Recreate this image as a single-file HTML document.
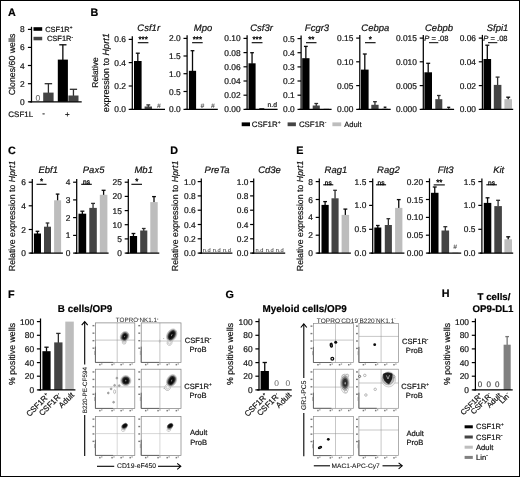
<!DOCTYPE html>
<html><head><meta charset="utf-8"><title>Figure</title>
<style>
html,body{margin:0;padding:0;background:#fff;}
body{width:520px;height:477px;overflow:hidden;font-family:"Liberation Sans",sans-serif;}
svg{display:block;font-family:"Liberation Sans",sans-serif;will-change:transform;opacity:0.999;}
svg text{font-family:"Liberation Sans",sans-serif;text-rendering:geometricPrecision;}
</style></head><body>
<svg width="520" height="477" viewBox="0 0 520 477">
<rect x="0.5" y="0.5" width="519" height="476" fill="#fff" stroke="#000" stroke-width="1"/>
<text transform="translate(8.00 16.40) scale(0.1)" font-size="108.0" text-anchor="start" font-weight="bold" font-style="normal" fill="#000" stroke="#000" stroke-width="2.0" stroke-linejoin="round" >A</text>
<text transform="translate(90.50 16.40) scale(0.1)" font-size="108.0" text-anchor="start" font-weight="bold" font-style="normal" fill="#000" stroke="#000" stroke-width="2.0" stroke-linejoin="round" >B</text>
<text transform="translate(8.00 154.10) scale(0.1)" font-size="108.0" text-anchor="start" font-weight="bold" font-style="normal" fill="#000" stroke="#000" stroke-width="2.0" stroke-linejoin="round" >C</text>
<text transform="translate(170.30 154.10) scale(0.1)" font-size="108.0" text-anchor="start" font-weight="bold" font-style="normal" fill="#000" stroke="#000" stroke-width="2.0" stroke-linejoin="round" >D</text>
<text transform="translate(296.20 154.10) scale(0.1)" font-size="108.0" text-anchor="start" font-weight="bold" font-style="normal" fill="#000" stroke="#000" stroke-width="2.0" stroke-linejoin="round" >E</text>
<text transform="translate(8.00 297.50) scale(0.1)" font-size="108.0" text-anchor="start" font-weight="bold" font-style="normal" fill="#000" stroke="#000" stroke-width="2.0" stroke-linejoin="round" >F</text>
<text transform="translate(225.60 297.70) scale(0.1)" font-size="108.0" text-anchor="start" font-weight="bold" font-style="normal" fill="#000" stroke="#000" stroke-width="2.0" stroke-linejoin="round" >G</text>
<text transform="translate(441.80 297.40) scale(0.1)" font-size="108.0" text-anchor="start" font-weight="bold" font-style="normal" fill="#000" stroke="#000" stroke-width="2.0" stroke-linejoin="round" >H</text>
<line x1="48.40" y1="83.70" x2="48.40" y2="93.10" stroke="#2e2e2e" stroke-width="1.3" />
<line x1="44.66" y1="83.70" x2="52.14" y2="83.70" stroke="#2e2e2e" stroke-width="1.3" />
<rect x="43.20" y="92.60" width="10.40" height="9.20" fill="#444"/>
<line x1="62.85" y1="44.80" x2="62.85" y2="60.10" stroke="#0a0a0a" stroke-width="1.3" />
<line x1="59.21" y1="44.80" x2="66.49" y2="44.80" stroke="#0a0a0a" stroke-width="1.3" />
<rect x="57.80" y="59.60" width="10.10" height="42.20" fill="#000"/>
<line x1="73.45" y1="89.30" x2="73.45" y2="96.00" stroke="#2e2e2e" stroke-width="1.3" />
<line x1="69.81" y1="89.30" x2="77.09" y2="89.30" stroke="#2e2e2e" stroke-width="1.3" />
<rect x="68.40" y="95.50" width="10.10" height="6.30" fill="#444"/>
<line x1="31.50" y1="26.80" x2="31.50" y2="102.40" stroke="#000" stroke-width="1.25" />
<line x1="29.50" y1="101.80" x2="81.70" y2="101.80" stroke="#000" stroke-width="1.25" />
<line x1="27.90" y1="29.40" x2="31.50" y2="29.40" stroke="#000" stroke-width="1.2" />
<text transform="translate(24.60 32.42) scale(0.1)" font-size="84.0" text-anchor="end" font-weight="normal" font-style="normal" fill="#111" stroke="#111" stroke-width="2.0" stroke-linejoin="round" >8</text>
<line x1="27.90" y1="47.40" x2="31.50" y2="47.40" stroke="#000" stroke-width="1.2" />
<text transform="translate(24.60 50.42) scale(0.1)" font-size="84.0" text-anchor="end" font-weight="normal" font-style="normal" fill="#111" stroke="#111" stroke-width="2.0" stroke-linejoin="round" >6</text>
<line x1="27.90" y1="65.50" x2="31.50" y2="65.50" stroke="#000" stroke-width="1.2" />
<text transform="translate(24.60 68.52) scale(0.1)" font-size="84.0" text-anchor="end" font-weight="normal" font-style="normal" fill="#111" stroke="#111" stroke-width="2.0" stroke-linejoin="round" >4</text>
<line x1="27.90" y1="83.70" x2="31.50" y2="83.70" stroke="#000" stroke-width="1.2" />
<text transform="translate(24.60 86.72) scale(0.1)" font-size="84.0" text-anchor="end" font-weight="normal" font-style="normal" fill="#111" stroke="#111" stroke-width="2.0" stroke-linejoin="round" >2</text>
<line x1="27.90" y1="101.80" x2="31.50" y2="101.80" stroke="#000" stroke-width="1.2" />
<text transform="translate(24.60 104.82) scale(0.1)" font-size="84.0" text-anchor="end" font-weight="normal" font-style="normal" fill="#111" stroke="#111" stroke-width="2.0" stroke-linejoin="round" >0</text>
<text transform="translate(37.80 100.60) scale(0.1)" font-size="86.0" text-anchor="middle" font-weight="normal" font-style="normal" fill="#666" stroke="#666" stroke-width="0.5" stroke-linejoin="round" >0</text>
<rect x="33.50" y="27.20" width="8.70" height="3.60" fill="#000"/>
<text transform="translate(45.20 31.80) scale(0.1)" font-size="75.0" text-anchor="start" font-weight="normal" font-style="normal" fill="#111" stroke="#111" stroke-width="2.0" stroke-linejoin="round" >CSF1R<tspan dy="-28.5" font-size="46.5">+</tspan></text>
<rect x="33.50" y="36.80" width="8.70" height="3.50" fill="#444"/>
<text transform="translate(46.90 41.40) scale(0.1)" font-size="75.0" text-anchor="start" font-weight="normal" font-style="normal" fill="#111" stroke="#111" stroke-width="2.0" stroke-linejoin="round" >CSF1R<tspan dy="-28.5" font-size="46.5">-</tspan></text>
<text transform="translate(8.30 116.70) scale(0.1)" font-size="80.0" text-anchor="start" font-weight="normal" font-style="normal" fill="#111" stroke="#111" stroke-width="2.0" stroke-linejoin="round" >CSF1L</text>
<text transform="translate(43.60 116.40) scale(0.1)" font-size="80.0" text-anchor="middle" font-weight="normal" font-style="normal" fill="#111" stroke="#111" stroke-width="2.0" stroke-linejoin="round" >-</text>
<text transform="translate(67.40 116.80) scale(0.1)" font-size="80.0" text-anchor="middle" font-weight="normal" font-style="normal" fill="#111" stroke="#111" stroke-width="2.0" stroke-linejoin="round" >+</text>
<text transform="translate(15.10 64.50) rotate(-90) scale(0.1)" font-size="88.0" text-anchor="middle" font-weight="normal" font-style="normal" fill="#111" stroke="#111" stroke-width="2.0" stroke-linejoin="round" >Clones/60 wells</text>
<text transform="translate(97.50 72.50) rotate(-90) scale(0.1)" font-size="84.0" text-anchor="middle" font-weight="normal" font-style="normal" fill="#111" stroke="#111" stroke-width="2.0" stroke-linejoin="round" >Relative</text>
<text transform="translate(109.30 72.70) rotate(-90) scale(0.1)" font-size="91.0" text-anchor="middle" font-weight="normal" font-style="normal" fill="#111" stroke="#111" stroke-width="2.0" stroke-linejoin="round" >expression to <tspan font-style="italic">Hprt1</tspan></text>
<line x1="137.80" y1="53.20" x2="137.80" y2="61.50" stroke="#0a0a0a" stroke-width="1.3" />
<line x1="135.82" y1="53.20" x2="139.78" y2="53.20" stroke="#0a0a0a" stroke-width="1.3" />
<rect x="134.00" y="61.00" width="7.60" height="48.40" fill="#000"/>
<line x1="148.30" y1="104.90" x2="148.30" y2="107.00" stroke="#2e2e2e" stroke-width="1.3" />
<line x1="146.38" y1="104.90" x2="150.22" y2="104.90" stroke="#2e2e2e" stroke-width="1.3" />
<rect x="144.60" y="106.50" width="7.40" height="2.90" fill="#444"/>
<line x1="132.30" y1="36.20" x2="132.30" y2="110.00" stroke="#000" stroke-width="1.25" />
<line x1="130.30" y1="109.40" x2="165.00" y2="109.40" stroke="#000" stroke-width="1.25" />
<line x1="128.70" y1="39.40" x2="132.30" y2="39.40" stroke="#000" stroke-width="1.2" />
<text transform="translate(125.90 42.42) scale(0.1)" font-size="84.0" text-anchor="end" font-weight="normal" font-style="normal" fill="#111" stroke="#111" stroke-width="2.0" stroke-linejoin="round" >0.6</text>
<line x1="128.70" y1="62.60" x2="132.30" y2="62.60" stroke="#000" stroke-width="1.2" />
<text transform="translate(125.90 65.62) scale(0.1)" font-size="84.0" text-anchor="end" font-weight="normal" font-style="normal" fill="#111" stroke="#111" stroke-width="2.0" stroke-linejoin="round" >0.4</text>
<line x1="128.70" y1="86.00" x2="132.30" y2="86.00" stroke="#000" stroke-width="1.2" />
<text transform="translate(125.90 89.02) scale(0.1)" font-size="84.0" text-anchor="end" font-weight="normal" font-style="normal" fill="#111" stroke="#111" stroke-width="2.0" stroke-linejoin="round" >0.2</text>
<line x1="128.70" y1="109.40" x2="132.30" y2="109.40" stroke="#000" stroke-width="1.2" />
<text transform="translate(125.90 112.42) scale(0.1)" font-size="84.0" text-anchor="end" font-weight="normal" font-style="normal" fill="#111" stroke="#111" stroke-width="2.0" stroke-linejoin="round" >0.0</text>
<text transform="translate(148.70 31.00) scale(0.1)" font-size="95.0" text-anchor="middle" font-weight="normal" font-style="italic" fill="#111" stroke="#111" stroke-width="2.0" stroke-linejoin="round" >Csf1r</text>
<line x1="137.80" y1="42.70" x2="148.40" y2="42.70" stroke="#000" stroke-width="1.1" />
<text transform="translate(143.10 42.30) scale(0.1)" font-size="80.0" text-anchor="middle" font-weight="normal" font-style="normal" fill="#000" stroke="#000" stroke-width="3.2" stroke-linejoin="round" >***</text>
<text transform="translate(158.80 107.70) scale(0.1)" font-size="66.0" text-anchor="middle" font-weight="normal" font-style="italic" fill="#333" stroke="#333" stroke-width="0.4" stroke-linejoin="round" >#</text>
<line x1="192.50" y1="50.70" x2="192.50" y2="71.30" stroke="#0a0a0a" stroke-width="1.3" />
<line x1="190.63" y1="50.70" x2="194.37" y2="50.70" stroke="#0a0a0a" stroke-width="1.3" />
<rect x="188.90" y="70.80" width="7.20" height="38.60" fill="#000"/>
<line x1="187.10" y1="35.20" x2="187.10" y2="110.00" stroke="#000" stroke-width="1.25" />
<line x1="185.10" y1="109.40" x2="217.80" y2="109.40" stroke="#000" stroke-width="1.25" />
<line x1="183.50" y1="38.40" x2="187.10" y2="38.40" stroke="#000" stroke-width="1.2" />
<text transform="translate(180.70 41.42) scale(0.1)" font-size="84.0" text-anchor="end" font-weight="normal" font-style="normal" fill="#111" stroke="#111" stroke-width="2.0" stroke-linejoin="round" >2.0</text>
<line x1="183.50" y1="56.00" x2="187.10" y2="56.00" stroke="#000" stroke-width="1.2" />
<text transform="translate(180.70 59.02) scale(0.1)" font-size="84.0" text-anchor="end" font-weight="normal" font-style="normal" fill="#111" stroke="#111" stroke-width="2.0" stroke-linejoin="round" >1.5</text>
<line x1="183.50" y1="73.70" x2="187.10" y2="73.70" stroke="#000" stroke-width="1.2" />
<text transform="translate(180.70 76.72) scale(0.1)" font-size="84.0" text-anchor="end" font-weight="normal" font-style="normal" fill="#111" stroke="#111" stroke-width="2.0" stroke-linejoin="round" >1.0</text>
<line x1="183.50" y1="91.50" x2="187.10" y2="91.50" stroke="#000" stroke-width="1.2" />
<text transform="translate(180.70 94.52) scale(0.1)" font-size="84.0" text-anchor="end" font-weight="normal" font-style="normal" fill="#111" stroke="#111" stroke-width="2.0" stroke-linejoin="round" >0.5</text>
<line x1="183.50" y1="109.40" x2="187.10" y2="109.40" stroke="#000" stroke-width="1.2" />
<text transform="translate(180.70 112.42) scale(0.1)" font-size="84.0" text-anchor="end" font-weight="normal" font-style="normal" fill="#111" stroke="#111" stroke-width="2.0" stroke-linejoin="round" >0.0</text>
<text transform="translate(203.00 31.00) scale(0.1)" font-size="95.0" text-anchor="middle" font-weight="normal" font-style="italic" fill="#111" stroke="#111" stroke-width="2.0" stroke-linejoin="round" >Mpo</text>
<line x1="192.10" y1="42.70" x2="202.70" y2="42.70" stroke="#000" stroke-width="1.1" />
<text transform="translate(197.40 42.30) scale(0.1)" font-size="80.0" text-anchor="middle" font-weight="normal" font-style="normal" fill="#000" stroke="#000" stroke-width="3.2" stroke-linejoin="round" >***</text>
<text transform="translate(202.30 107.70) scale(0.1)" font-size="66.0" text-anchor="middle" font-weight="normal" font-style="italic" fill="#333" stroke="#333" stroke-width="0.4" stroke-linejoin="round" >#</text>
<text transform="translate(212.90 107.70) scale(0.1)" font-size="66.0" text-anchor="middle" font-weight="normal" font-style="italic" fill="#333" stroke="#333" stroke-width="0.4" stroke-linejoin="round" >#</text>
<line x1="252.05" y1="52.70" x2="252.05" y2="63.80" stroke="#0a0a0a" stroke-width="1.3" />
<line x1="250.20" y1="52.70" x2="253.90" y2="52.70" stroke="#0a0a0a" stroke-width="1.3" />
<rect x="248.50" y="63.30" width="7.10" height="46.10" fill="#000"/>
<rect x="259.30" y="108.00" width="5.00" height="1.40" fill="#444"/>
<line x1="247.10" y1="35.20" x2="247.10" y2="110.00" stroke="#000" stroke-width="1.25" />
<line x1="245.10" y1="109.40" x2="277.60" y2="109.40" stroke="#000" stroke-width="1.25" />
<line x1="243.50" y1="38.40" x2="247.10" y2="38.40" stroke="#000" stroke-width="1.2" />
<text transform="translate(240.70 41.42) scale(0.1)" font-size="84.0" text-anchor="end" font-weight="normal" font-style="normal" fill="#111" stroke="#111" stroke-width="2.0" stroke-linejoin="round" >0.10</text>
<line x1="243.50" y1="52.60" x2="247.10" y2="52.60" stroke="#000" stroke-width="1.2" />
<text transform="translate(240.70 55.62) scale(0.1)" font-size="84.0" text-anchor="end" font-weight="normal" font-style="normal" fill="#111" stroke="#111" stroke-width="2.0" stroke-linejoin="round" >0.08</text>
<line x1="243.50" y1="66.80" x2="247.10" y2="66.80" stroke="#000" stroke-width="1.2" />
<text transform="translate(240.70 69.82) scale(0.1)" font-size="84.0" text-anchor="end" font-weight="normal" font-style="normal" fill="#111" stroke="#111" stroke-width="2.0" stroke-linejoin="round" >0.06</text>
<line x1="243.50" y1="81.00" x2="247.10" y2="81.00" stroke="#000" stroke-width="1.2" />
<text transform="translate(240.70 84.02) scale(0.1)" font-size="84.0" text-anchor="end" font-weight="normal" font-style="normal" fill="#111" stroke="#111" stroke-width="2.0" stroke-linejoin="round" >0.04</text>
<line x1="243.50" y1="95.20" x2="247.10" y2="95.20" stroke="#000" stroke-width="1.2" />
<text transform="translate(240.70 98.22) scale(0.1)" font-size="84.0" text-anchor="end" font-weight="normal" font-style="normal" fill="#111" stroke="#111" stroke-width="2.0" stroke-linejoin="round" >0.02</text>
<line x1="243.50" y1="109.40" x2="247.10" y2="109.40" stroke="#000" stroke-width="1.2" />
<text transform="translate(240.70 112.42) scale(0.1)" font-size="84.0" text-anchor="end" font-weight="normal" font-style="normal" fill="#111" stroke="#111" stroke-width="2.0" stroke-linejoin="round" >0.00</text>
<text transform="translate(261.50 31.00) scale(0.1)" font-size="95.0" text-anchor="middle" font-weight="normal" font-style="italic" fill="#111" stroke="#111" stroke-width="2.0" stroke-linejoin="round" >Csf3r</text>
<line x1="251.70" y1="42.70" x2="262.50" y2="42.70" stroke="#000" stroke-width="1.1" />
<text transform="translate(257.10 42.30) scale(0.1)" font-size="80.0" text-anchor="middle" font-weight="normal" font-style="normal" fill="#000" stroke="#000" stroke-width="3.2" stroke-linejoin="round" >***</text>
<text transform="translate(272.30 107.40) scale(0.1)" font-size="68.0" text-anchor="middle" font-weight="normal" font-style="normal" fill="#111" stroke="#111" stroke-width="2.0" stroke-linejoin="round" >n.d</text>
<line x1="305.85" y1="46.40" x2="305.85" y2="58.70" stroke="#0a0a0a" stroke-width="1.3" />
<line x1="303.95" y1="46.40" x2="307.75" y2="46.40" stroke="#0a0a0a" stroke-width="1.3" />
<rect x="302.20" y="58.20" width="7.30" height="51.20" fill="#000"/>
<line x1="316.25" y1="103.50" x2="316.25" y2="106.00" stroke="#2e2e2e" stroke-width="1.3" />
<line x1="314.40" y1="103.50" x2="318.10" y2="103.50" stroke="#2e2e2e" stroke-width="1.3" />
<rect x="312.70" y="105.50" width="7.10" height="3.90" fill="#444"/>
<rect x="323.60" y="108.40" width="5.40" height="1.00" fill="#bdbdbd"/>
<line x1="301.10" y1="35.40" x2="301.10" y2="110.00" stroke="#000" stroke-width="1.25" />
<line x1="299.10" y1="109.40" x2="331.60" y2="109.40" stroke="#000" stroke-width="1.25" />
<line x1="297.50" y1="38.60" x2="301.10" y2="38.60" stroke="#000" stroke-width="1.2" />
<text transform="translate(294.70 41.62) scale(0.1)" font-size="84.0" text-anchor="end" font-weight="normal" font-style="normal" fill="#111" stroke="#111" stroke-width="2.0" stroke-linejoin="round" >0.5</text>
<line x1="297.50" y1="52.70" x2="301.10" y2="52.70" stroke="#000" stroke-width="1.2" />
<text transform="translate(294.70 55.72) scale(0.1)" font-size="84.0" text-anchor="end" font-weight="normal" font-style="normal" fill="#111" stroke="#111" stroke-width="2.0" stroke-linejoin="round" >0.4</text>
<line x1="297.50" y1="66.90" x2="301.10" y2="66.90" stroke="#000" stroke-width="1.2" />
<text transform="translate(294.70 69.92) scale(0.1)" font-size="84.0" text-anchor="end" font-weight="normal" font-style="normal" fill="#111" stroke="#111" stroke-width="2.0" stroke-linejoin="round" >0.3</text>
<line x1="297.50" y1="81.00" x2="301.10" y2="81.00" stroke="#000" stroke-width="1.2" />
<text transform="translate(294.70 84.02) scale(0.1)" font-size="84.0" text-anchor="end" font-weight="normal" font-style="normal" fill="#111" stroke="#111" stroke-width="2.0" stroke-linejoin="round" >0.2</text>
<line x1="297.50" y1="95.20" x2="301.10" y2="95.20" stroke="#000" stroke-width="1.2" />
<text transform="translate(294.70 98.22) scale(0.1)" font-size="84.0" text-anchor="end" font-weight="normal" font-style="normal" fill="#111" stroke="#111" stroke-width="2.0" stroke-linejoin="round" >0.1</text>
<line x1="297.50" y1="109.40" x2="301.10" y2="109.40" stroke="#000" stroke-width="1.2" />
<text transform="translate(294.70 112.42) scale(0.1)" font-size="84.0" text-anchor="end" font-weight="normal" font-style="normal" fill="#111" stroke="#111" stroke-width="2.0" stroke-linejoin="round" >0.0</text>
<text transform="translate(317.00 31.00) scale(0.1)" font-size="95.0" text-anchor="middle" font-weight="normal" font-style="italic" fill="#111" stroke="#111" stroke-width="2.0" stroke-linejoin="round" >Fcgr3</text>
<line x1="306.00" y1="42.70" x2="316.50" y2="42.70" stroke="#000" stroke-width="1.1" />
<text transform="translate(311.25 42.30) scale(0.1)" font-size="80.0" text-anchor="middle" font-weight="normal" font-style="normal" fill="#000" stroke="#000" stroke-width="3.2" stroke-linejoin="round" >**</text>
<line x1="364.80" y1="54.00" x2="364.80" y2="70.10" stroke="#0a0a0a" stroke-width="1.3" />
<line x1="362.82" y1="54.00" x2="366.78" y2="54.00" stroke="#0a0a0a" stroke-width="1.3" />
<rect x="361.00" y="69.60" width="7.60" height="39.80" fill="#000"/>
<line x1="374.95" y1="101.70" x2="374.95" y2="105.30" stroke="#2e2e2e" stroke-width="1.3" />
<line x1="373.05" y1="101.70" x2="376.85" y2="101.70" stroke="#2e2e2e" stroke-width="1.3" />
<rect x="371.30" y="104.80" width="7.30" height="4.60" fill="#444"/>
<line x1="385.05" y1="107.20" x2="385.05" y2="108.70" stroke="#0a0a0a" stroke-width="1.3" />
<line x1="383.67" y1="107.20" x2="386.43" y2="107.20" stroke="#0a0a0a" stroke-width="1.3" />
<rect x="382.40" y="108.20" width="5.30" height="1.20" fill="#bdbdbd"/>
<line x1="359.80" y1="34.90" x2="359.80" y2="110.00" stroke="#000" stroke-width="1.25" />
<line x1="357.80" y1="109.40" x2="390.70" y2="109.40" stroke="#000" stroke-width="1.25" />
<line x1="356.20" y1="38.10" x2="359.80" y2="38.10" stroke="#000" stroke-width="1.2" />
<text transform="translate(353.40 41.12) scale(0.1)" font-size="84.0" text-anchor="end" font-weight="normal" font-style="normal" fill="#111" stroke="#111" stroke-width="2.0" stroke-linejoin="round" >0.15</text>
<line x1="356.20" y1="61.80" x2="359.80" y2="61.80" stroke="#000" stroke-width="1.2" />
<text transform="translate(353.40 64.82) scale(0.1)" font-size="84.0" text-anchor="end" font-weight="normal" font-style="normal" fill="#111" stroke="#111" stroke-width="2.0" stroke-linejoin="round" >0.10</text>
<line x1="356.20" y1="85.60" x2="359.80" y2="85.60" stroke="#000" stroke-width="1.2" />
<text transform="translate(353.40 88.62) scale(0.1)" font-size="84.0" text-anchor="end" font-weight="normal" font-style="normal" fill="#111" stroke="#111" stroke-width="2.0" stroke-linejoin="round" >0.05</text>
<line x1="356.20" y1="109.40" x2="359.80" y2="109.40" stroke="#000" stroke-width="1.2" />
<text transform="translate(353.40 112.42) scale(0.1)" font-size="84.0" text-anchor="end" font-weight="normal" font-style="normal" fill="#111" stroke="#111" stroke-width="2.0" stroke-linejoin="round" >0.00</text>
<text transform="translate(375.30 31.00) scale(0.1)" font-size="95.0" text-anchor="middle" font-weight="normal" font-style="italic" fill="#111" stroke="#111" stroke-width="2.0" stroke-linejoin="round" >Cebpa</text>
<line x1="365.00" y1="42.70" x2="375.60" y2="42.70" stroke="#000" stroke-width="1.1" />
<text transform="translate(370.30 42.30) scale(0.1)" font-size="80.0" text-anchor="middle" font-weight="normal" font-style="normal" fill="#000" stroke="#000" stroke-width="3.2" stroke-linejoin="round" >*</text>
<line x1="428.20" y1="63.30" x2="428.20" y2="72.80" stroke="#0a0a0a" stroke-width="1.3" />
<line x1="426.22" y1="63.30" x2="430.18" y2="63.30" stroke="#0a0a0a" stroke-width="1.3" />
<rect x="424.40" y="72.30" width="7.60" height="37.10" fill="#000"/>
<line x1="438.80" y1="95.50" x2="438.80" y2="99.70" stroke="#2e2e2e" stroke-width="1.3" />
<line x1="436.98" y1="95.50" x2="440.62" y2="95.50" stroke="#2e2e2e" stroke-width="1.3" />
<rect x="435.30" y="99.20" width="7.00" height="10.20" fill="#444"/>
<line x1="448.70" y1="107.30" x2="448.70" y2="109.10" stroke="#0a0a0a" stroke-width="1.3" />
<line x1="447.19" y1="107.30" x2="450.21" y2="107.30" stroke="#0a0a0a" stroke-width="1.3" />
<rect x="445.80" y="108.60" width="5.80" height="0.80" fill="#bdbdbd"/>
<line x1="423.30" y1="34.90" x2="423.30" y2="110.00" stroke="#000" stroke-width="1.25" />
<line x1="421.30" y1="109.40" x2="454.10" y2="109.40" stroke="#000" stroke-width="1.25" />
<line x1="419.70" y1="38.10" x2="423.30" y2="38.10" stroke="#000" stroke-width="1.2" />
<text transform="translate(416.90 41.12) scale(0.1)" font-size="84.0" text-anchor="end" font-weight="normal" font-style="normal" fill="#111" stroke="#111" stroke-width="2.0" stroke-linejoin="round" >0.015</text>
<line x1="419.70" y1="61.80" x2="423.30" y2="61.80" stroke="#000" stroke-width="1.2" />
<text transform="translate(416.90 64.82) scale(0.1)" font-size="84.0" text-anchor="end" font-weight="normal" font-style="normal" fill="#111" stroke="#111" stroke-width="2.0" stroke-linejoin="round" >0.010</text>
<line x1="419.70" y1="85.60" x2="423.30" y2="85.60" stroke="#000" stroke-width="1.2" />
<text transform="translate(416.90 88.62) scale(0.1)" font-size="84.0" text-anchor="end" font-weight="normal" font-style="normal" fill="#111" stroke="#111" stroke-width="2.0" stroke-linejoin="round" >0.005</text>
<line x1="419.70" y1="109.40" x2="423.30" y2="109.40" stroke="#000" stroke-width="1.2" />
<text transform="translate(416.90 112.42) scale(0.1)" font-size="84.0" text-anchor="end" font-weight="normal" font-style="normal" fill="#111" stroke="#111" stroke-width="2.0" stroke-linejoin="round" >0.000</text>
<text transform="translate(439.00 31.00) scale(0.1)" font-size="95.0" text-anchor="middle" font-weight="normal" font-style="italic" fill="#111" stroke="#111" stroke-width="2.0" stroke-linejoin="round" >Cebpb</text>
<line x1="429.00" y1="42.70" x2="438.30" y2="42.70" stroke="#000" stroke-width="1.0" />
<text transform="translate(424.20 40.90) scale(0.1)" font-size="76.0" text-anchor="start" font-weight="normal" font-style="normal" fill="#111" stroke="#111" stroke-width="2.0" stroke-linejoin="round" ><tspan font-style="italic">P</tspan> = .08</text>
<line x1="487.30" y1="45.20" x2="487.30" y2="59.50" stroke="#0a0a0a" stroke-width="1.3" />
<line x1="485.32" y1="45.20" x2="489.28" y2="45.20" stroke="#0a0a0a" stroke-width="1.3" />
<rect x="483.50" y="59.00" width="7.60" height="50.40" fill="#000"/>
<line x1="497.60" y1="77.10" x2="497.60" y2="85.40" stroke="#2e2e2e" stroke-width="1.3" />
<line x1="495.62" y1="77.10" x2="499.58" y2="77.10" stroke="#2e2e2e" stroke-width="1.3" />
<rect x="493.80" y="84.90" width="7.60" height="24.50" fill="#444"/>
<line x1="508.20" y1="97.20" x2="508.20" y2="99.70" stroke="#0a0a0a" stroke-width="1.3" />
<line x1="506.22" y1="97.20" x2="510.18" y2="97.20" stroke="#0a0a0a" stroke-width="1.3" />
<rect x="504.40" y="99.20" width="7.60" height="10.20" fill="#bdbdbd"/>
<line x1="482.40" y1="34.90" x2="482.40" y2="110.00" stroke="#000" stroke-width="1.25" />
<line x1="480.40" y1="109.40" x2="513.20" y2="109.40" stroke="#000" stroke-width="1.25" />
<line x1="478.80" y1="38.10" x2="482.40" y2="38.10" stroke="#000" stroke-width="1.2" />
<text transform="translate(476.00 41.12) scale(0.1)" font-size="84.0" text-anchor="end" font-weight="normal" font-style="normal" fill="#111" stroke="#111" stroke-width="2.0" stroke-linejoin="round" >0.06</text>
<line x1="478.80" y1="61.80" x2="482.40" y2="61.80" stroke="#000" stroke-width="1.2" />
<text transform="translate(476.00 64.82) scale(0.1)" font-size="84.0" text-anchor="end" font-weight="normal" font-style="normal" fill="#111" stroke="#111" stroke-width="2.0" stroke-linejoin="round" >0.04</text>
<line x1="478.80" y1="85.60" x2="482.40" y2="85.60" stroke="#000" stroke-width="1.2" />
<text transform="translate(476.00 88.62) scale(0.1)" font-size="84.0" text-anchor="end" font-weight="normal" font-style="normal" fill="#111" stroke="#111" stroke-width="2.0" stroke-linejoin="round" >0.02</text>
<line x1="478.80" y1="109.40" x2="482.40" y2="109.40" stroke="#000" stroke-width="1.2" />
<text transform="translate(476.00 112.42) scale(0.1)" font-size="84.0" text-anchor="end" font-weight="normal" font-style="normal" fill="#111" stroke="#111" stroke-width="2.0" stroke-linejoin="round" >0.00</text>
<text transform="translate(497.50 31.00) scale(0.1)" font-size="95.0" text-anchor="middle" font-weight="normal" font-style="italic" fill="#111" stroke="#111" stroke-width="2.0" stroke-linejoin="round" >Sfpi1</text>
<line x1="488.00" y1="42.70" x2="497.30" y2="42.70" stroke="#000" stroke-width="1.0" />
<text transform="translate(483.30 40.90) scale(0.1)" font-size="76.0" text-anchor="start" font-weight="normal" font-style="normal" fill="#111" stroke="#111" stroke-width="2.0" stroke-linejoin="round" ><tspan font-style="italic">P</tspan> = .08</text>
<rect x="241.70" y="122.40" width="8.30" height="3.80" fill="#000"/>
<text transform="translate(251.80 127.00) scale(0.1)" font-size="79.0" text-anchor="start" font-weight="normal" font-style="normal" fill="#111" stroke="#111" stroke-width="2.0" stroke-linejoin="round" >CSF1R<tspan dy="-30.0" font-size="49.0">+</tspan></text>
<rect x="287.60" y="122.40" width="8.30" height="3.80" fill="#444"/>
<text transform="translate(298.90 127.00) scale(0.1)" font-size="79.0" text-anchor="start" font-weight="normal" font-style="normal" fill="#111" stroke="#111" stroke-width="2.0" stroke-linejoin="round" >CSF1R<tspan dy="-30.0" font-size="49.0">-</tspan></text>
<rect x="332.40" y="122.40" width="8.80" height="3.80" fill="#bdbdbd"/>
<text transform="translate(344.20 127.00) scale(0.1)" font-size="76.0" text-anchor="start" font-weight="normal" font-style="normal" fill="#111" stroke="#111" stroke-width="2.0" stroke-linejoin="round" >Adult</text>
<text transform="translate(15.00 215.90) rotate(-90) scale(0.1)" font-size="88.0" text-anchor="middle" font-weight="normal" font-style="normal" fill="#111" stroke="#111" stroke-width="2.0" stroke-linejoin="round" >Relative expression to <tspan font-style="italic">Hprt1</tspan></text>
<text transform="translate(177.70 215.90) rotate(-90) scale(0.1)" font-size="88.0" text-anchor="middle" font-weight="normal" font-style="normal" fill="#111" stroke="#111" stroke-width="2.0" stroke-linejoin="round" >Relative expression to <tspan font-style="italic">Hprt1</tspan></text>
<text transform="translate(303.00 215.90) rotate(-90) scale(0.1)" font-size="88.0" text-anchor="middle" font-weight="normal" font-style="normal" fill="#111" stroke="#111" stroke-width="2.0" stroke-linejoin="round" >Relative expression to <tspan font-style="italic">Hprt1</tspan></text>
<line x1="37.45" y1="231.30" x2="37.45" y2="234.00" stroke="#0a0a0a" stroke-width="1.3" />
<line x1="35.60" y1="231.30" x2="39.30" y2="231.30" stroke="#0a0a0a" stroke-width="1.3" />
<rect x="33.90" y="233.50" width="7.10" height="19.60" fill="#000"/>
<line x1="47.50" y1="223.00" x2="47.50" y2="227.20" stroke="#2e2e2e" stroke-width="1.3" />
<line x1="45.68" y1="223.00" x2="49.32" y2="223.00" stroke="#2e2e2e" stroke-width="1.3" />
<rect x="44.00" y="226.70" width="7.00" height="26.40" fill="#444"/>
<line x1="57.60" y1="194.10" x2="57.60" y2="200.80" stroke="#0a0a0a" stroke-width="1.3" />
<line x1="55.78" y1="194.10" x2="59.42" y2="194.10" stroke="#0a0a0a" stroke-width="1.3" />
<rect x="54.10" y="200.30" width="7.00" height="52.80" fill="#bdbdbd"/>
<line x1="32.30" y1="179.00" x2="32.30" y2="253.70" stroke="#000" stroke-width="1.25" />
<line x1="30.30" y1="253.10" x2="62.90" y2="253.10" stroke="#000" stroke-width="1.25" />
<line x1="28.70" y1="182.20" x2="32.30" y2="182.20" stroke="#000" stroke-width="1.2" />
<text transform="translate(25.90 185.22) scale(0.1)" font-size="84.0" text-anchor="end" font-weight="normal" font-style="normal" fill="#111" stroke="#111" stroke-width="2.0" stroke-linejoin="round" >6</text>
<line x1="28.70" y1="205.80" x2="32.30" y2="205.80" stroke="#000" stroke-width="1.2" />
<text transform="translate(25.90 208.82) scale(0.1)" font-size="84.0" text-anchor="end" font-weight="normal" font-style="normal" fill="#111" stroke="#111" stroke-width="2.0" stroke-linejoin="round" >4</text>
<line x1="28.70" y1="229.50" x2="32.30" y2="229.50" stroke="#000" stroke-width="1.2" />
<text transform="translate(25.90 232.52) scale(0.1)" font-size="84.0" text-anchor="end" font-weight="normal" font-style="normal" fill="#111" stroke="#111" stroke-width="2.0" stroke-linejoin="round" >2</text>
<line x1="28.70" y1="253.10" x2="32.30" y2="253.10" stroke="#000" stroke-width="1.2" />
<text transform="translate(25.90 256.12) scale(0.1)" font-size="84.0" text-anchor="end" font-weight="normal" font-style="normal" fill="#111" stroke="#111" stroke-width="2.0" stroke-linejoin="round" >0</text>
<text transform="translate(48.20 173.40) scale(0.1)" font-size="95.0" text-anchor="middle" font-weight="normal" font-style="italic" fill="#111" stroke="#111" stroke-width="2.0" stroke-linejoin="round" >Ebf1</text>
<line x1="36.50" y1="184.30" x2="46.50" y2="184.30" stroke="#000" stroke-width="1.1" />
<text transform="translate(41.50 183.90) scale(0.1)" font-size="80.0" text-anchor="middle" font-weight="normal" font-style="normal" fill="#000" stroke="#000" stroke-width="3.2" stroke-linejoin="round" >*</text>
<line x1="82.35" y1="211.20" x2="82.35" y2="214.20" stroke="#0a0a0a" stroke-width="1.3" />
<line x1="80.35" y1="211.20" x2="84.35" y2="211.20" stroke="#0a0a0a" stroke-width="1.3" />
<rect x="78.50" y="213.70" width="7.70" height="39.40" fill="#000"/>
<line x1="93.05" y1="203.40" x2="93.05" y2="208.40" stroke="#2e2e2e" stroke-width="1.3" />
<line x1="91.10" y1="203.40" x2="95.00" y2="203.40" stroke="#2e2e2e" stroke-width="1.3" />
<rect x="89.30" y="207.90" width="7.50" height="45.20" fill="#444"/>
<line x1="103.60" y1="190.30" x2="103.60" y2="195.30" stroke="#0a0a0a" stroke-width="1.3" />
<line x1="101.62" y1="190.30" x2="105.58" y2="190.30" stroke="#0a0a0a" stroke-width="1.3" />
<rect x="99.80" y="194.80" width="7.60" height="58.30" fill="#bdbdbd"/>
<line x1="76.70" y1="179.00" x2="76.70" y2="253.70" stroke="#000" stroke-width="1.25" />
<line x1="74.70" y1="253.10" x2="108.60" y2="253.10" stroke="#000" stroke-width="1.25" />
<line x1="73.10" y1="182.20" x2="76.70" y2="182.20" stroke="#000" stroke-width="1.2" />
<text transform="translate(70.30 185.22) scale(0.1)" font-size="84.0" text-anchor="end" font-weight="normal" font-style="normal" fill="#111" stroke="#111" stroke-width="2.0" stroke-linejoin="round" >4</text>
<line x1="73.10" y1="199.90" x2="76.70" y2="199.90" stroke="#000" stroke-width="1.2" />
<text transform="translate(70.30 202.92) scale(0.1)" font-size="84.0" text-anchor="end" font-weight="normal" font-style="normal" fill="#111" stroke="#111" stroke-width="2.0" stroke-linejoin="round" >3</text>
<line x1="73.10" y1="217.60" x2="76.70" y2="217.60" stroke="#000" stroke-width="1.2" />
<text transform="translate(70.30 220.62) scale(0.1)" font-size="84.0" text-anchor="end" font-weight="normal" font-style="normal" fill="#111" stroke="#111" stroke-width="2.0" stroke-linejoin="round" >2</text>
<line x1="73.10" y1="235.40" x2="76.70" y2="235.40" stroke="#000" stroke-width="1.2" />
<text transform="translate(70.30 238.42) scale(0.1)" font-size="84.0" text-anchor="end" font-weight="normal" font-style="normal" fill="#111" stroke="#111" stroke-width="2.0" stroke-linejoin="round" >1</text>
<line x1="73.10" y1="253.10" x2="76.70" y2="253.10" stroke="#000" stroke-width="1.2" />
<text transform="translate(70.30 256.12) scale(0.1)" font-size="84.0" text-anchor="end" font-weight="normal" font-style="normal" fill="#111" stroke="#111" stroke-width="2.0" stroke-linejoin="round" >0</text>
<text transform="translate(93.60 173.40) scale(0.1)" font-size="95.0" text-anchor="middle" font-weight="normal" font-style="italic" fill="#111" stroke="#111" stroke-width="2.0" stroke-linejoin="round" >Pax5</text>
<line x1="81.20" y1="184.30" x2="91.80" y2="184.30" stroke="#000" stroke-width="1.1" />
<text transform="translate(86.50 184.40) scale(0.1)" font-size="66.0" text-anchor="middle" font-weight="normal" font-style="normal" fill="#000" stroke="#000" stroke-width="3.0" stroke-linejoin="round" >ns</text>
<line x1="133.45" y1="233.50" x2="133.45" y2="236.50" stroke="#0a0a0a" stroke-width="1.3" />
<line x1="131.55" y1="233.50" x2="135.35" y2="233.50" stroke="#0a0a0a" stroke-width="1.3" />
<rect x="129.80" y="236.00" width="7.30" height="17.10" fill="#000"/>
<line x1="143.75" y1="228.50" x2="143.75" y2="231.00" stroke="#2e2e2e" stroke-width="1.3" />
<line x1="141.90" y1="228.50" x2="145.60" y2="228.50" stroke="#2e2e2e" stroke-width="1.3" />
<rect x="140.20" y="230.50" width="7.10" height="22.60" fill="#444"/>
<line x1="154.00" y1="196.60" x2="154.00" y2="202.60" stroke="#0a0a0a" stroke-width="1.3" />
<line x1="152.08" y1="196.60" x2="155.92" y2="196.60" stroke="#0a0a0a" stroke-width="1.3" />
<rect x="150.30" y="202.10" width="7.40" height="51.00" fill="#bdbdbd"/>
<line x1="128.30" y1="179.00" x2="128.30" y2="253.70" stroke="#000" stroke-width="1.25" />
<line x1="126.30" y1="253.10" x2="159.30" y2="253.10" stroke="#000" stroke-width="1.25" />
<line x1="124.70" y1="182.20" x2="128.30" y2="182.20" stroke="#000" stroke-width="1.2" />
<text transform="translate(121.90 185.22) scale(0.1)" font-size="84.0" text-anchor="end" font-weight="normal" font-style="normal" fill="#111" stroke="#111" stroke-width="2.0" stroke-linejoin="round" >25</text>
<line x1="124.70" y1="196.40" x2="128.30" y2="196.40" stroke="#000" stroke-width="1.2" />
<text transform="translate(121.90 199.42) scale(0.1)" font-size="84.0" text-anchor="end" font-weight="normal" font-style="normal" fill="#111" stroke="#111" stroke-width="2.0" stroke-linejoin="round" >20</text>
<line x1="124.70" y1="210.60" x2="128.30" y2="210.60" stroke="#000" stroke-width="1.2" />
<text transform="translate(121.90 213.62) scale(0.1)" font-size="84.0" text-anchor="end" font-weight="normal" font-style="normal" fill="#111" stroke="#111" stroke-width="2.0" stroke-linejoin="round" >15</text>
<line x1="124.70" y1="224.70" x2="128.30" y2="224.70" stroke="#000" stroke-width="1.2" />
<text transform="translate(121.90 227.72) scale(0.1)" font-size="84.0" text-anchor="end" font-weight="normal" font-style="normal" fill="#111" stroke="#111" stroke-width="2.0" stroke-linejoin="round" >10</text>
<line x1="124.70" y1="238.90" x2="128.30" y2="238.90" stroke="#000" stroke-width="1.2" />
<text transform="translate(121.90 241.92) scale(0.1)" font-size="84.0" text-anchor="end" font-weight="normal" font-style="normal" fill="#111" stroke="#111" stroke-width="2.0" stroke-linejoin="round" >5</text>
<line x1="124.70" y1="253.10" x2="128.30" y2="253.10" stroke="#000" stroke-width="1.2" />
<text transform="translate(121.90 256.12) scale(0.1)" font-size="84.0" text-anchor="end" font-weight="normal" font-style="normal" fill="#111" stroke="#111" stroke-width="2.0" stroke-linejoin="round" >0</text>
<text transform="translate(143.70 173.40) scale(0.1)" font-size="95.0" text-anchor="middle" font-weight="normal" font-style="italic" fill="#111" stroke="#111" stroke-width="2.0" stroke-linejoin="round" >Mb1</text>
<line x1="131.40" y1="184.30" x2="142.00" y2="184.30" stroke="#000" stroke-width="1.1" />
<text transform="translate(136.70 183.90) scale(0.1)" font-size="80.0" text-anchor="middle" font-weight="normal" font-style="normal" fill="#000" stroke="#000" stroke-width="3.2" stroke-linejoin="round" >*</text>
<line x1="201.30" y1="178.40" x2="201.30" y2="253.70" stroke="#000" stroke-width="1.25" />
<line x1="199.30" y1="253.10" x2="232.40" y2="253.10" stroke="#000" stroke-width="1.25" />
<line x1="197.70" y1="181.60" x2="201.30" y2="181.60" stroke="#000" stroke-width="1.2" />
<text transform="translate(195.70 184.62) scale(0.1)" font-size="84.0" text-anchor="end" font-weight="normal" font-style="normal" fill="#111" stroke="#111" stroke-width="2.0" stroke-linejoin="round" >1.0</text>
<line x1="197.70" y1="195.90" x2="201.30" y2="195.90" stroke="#000" stroke-width="1.2" />
<text transform="translate(195.70 198.92) scale(0.1)" font-size="84.0" text-anchor="end" font-weight="normal" font-style="normal" fill="#111" stroke="#111" stroke-width="2.0" stroke-linejoin="round" >0.8</text>
<line x1="197.70" y1="210.20" x2="201.30" y2="210.20" stroke="#000" stroke-width="1.2" />
<text transform="translate(195.70 213.22) scale(0.1)" font-size="84.0" text-anchor="end" font-weight="normal" font-style="normal" fill="#111" stroke="#111" stroke-width="2.0" stroke-linejoin="round" >0.6</text>
<line x1="197.70" y1="224.50" x2="201.30" y2="224.50" stroke="#000" stroke-width="1.2" />
<text transform="translate(195.70 227.52) scale(0.1)" font-size="84.0" text-anchor="end" font-weight="normal" font-style="normal" fill="#111" stroke="#111" stroke-width="2.0" stroke-linejoin="round" >0.4</text>
<line x1="197.70" y1="238.80" x2="201.30" y2="238.80" stroke="#000" stroke-width="1.2" />
<text transform="translate(195.70 241.82) scale(0.1)" font-size="84.0" text-anchor="end" font-weight="normal" font-style="normal" fill="#111" stroke="#111" stroke-width="2.0" stroke-linejoin="round" >0.2</text>
<line x1="197.70" y1="253.10" x2="201.30" y2="253.10" stroke="#000" stroke-width="1.2" />
<text transform="translate(195.70 256.12) scale(0.1)" font-size="84.0" text-anchor="end" font-weight="normal" font-style="normal" fill="#111" stroke="#111" stroke-width="2.0" stroke-linejoin="round" >0.0</text>
<text transform="translate(217.10 173.40) scale(0.1)" font-size="95.0" text-anchor="middle" font-weight="normal" font-style="italic" fill="#111" stroke="#111" stroke-width="2.0" stroke-linejoin="round" >PreTa</text>
<text transform="translate(206.70 251.50) scale(0.1)" font-size="57.0" text-anchor="middle" font-weight="normal" font-style="normal" fill="#2a2a2a" stroke="#2a2a2a" stroke-width="0.2" stroke-linejoin="round" >n.d</text>
<text transform="translate(216.80 251.50) scale(0.1)" font-size="57.0" text-anchor="middle" font-weight="normal" font-style="normal" fill="#2a2a2a" stroke="#2a2a2a" stroke-width="0.2" stroke-linejoin="round" >n.d</text>
<text transform="translate(226.90 251.50) scale(0.1)" font-size="57.0" text-anchor="middle" font-weight="normal" font-style="normal" fill="#2a2a2a" stroke="#2a2a2a" stroke-width="0.2" stroke-linejoin="round" >n.d</text>
<line x1="253.70" y1="178.40" x2="253.70" y2="253.70" stroke="#000" stroke-width="1.25" />
<line x1="251.70" y1="253.10" x2="285.20" y2="253.10" stroke="#000" stroke-width="1.25" />
<line x1="250.10" y1="181.60" x2="253.70" y2="181.60" stroke="#000" stroke-width="1.2" />
<text transform="translate(248.40 184.62) scale(0.1)" font-size="84.0" text-anchor="end" font-weight="normal" font-style="normal" fill="#111" stroke="#111" stroke-width="2.0" stroke-linejoin="round" >1.0</text>
<line x1="250.10" y1="195.90" x2="253.70" y2="195.90" stroke="#000" stroke-width="1.2" />
<text transform="translate(248.40 198.92) scale(0.1)" font-size="84.0" text-anchor="end" font-weight="normal" font-style="normal" fill="#111" stroke="#111" stroke-width="2.0" stroke-linejoin="round" >0.8</text>
<line x1="250.10" y1="210.20" x2="253.70" y2="210.20" stroke="#000" stroke-width="1.2" />
<text transform="translate(248.40 213.22) scale(0.1)" font-size="84.0" text-anchor="end" font-weight="normal" font-style="normal" fill="#111" stroke="#111" stroke-width="2.0" stroke-linejoin="round" >0.6</text>
<line x1="250.10" y1="224.50" x2="253.70" y2="224.50" stroke="#000" stroke-width="1.2" />
<text transform="translate(248.40 227.52) scale(0.1)" font-size="84.0" text-anchor="end" font-weight="normal" font-style="normal" fill="#111" stroke="#111" stroke-width="2.0" stroke-linejoin="round" >0.4</text>
<line x1="250.10" y1="238.80" x2="253.70" y2="238.80" stroke="#000" stroke-width="1.2" />
<text transform="translate(248.40 241.82) scale(0.1)" font-size="84.0" text-anchor="end" font-weight="normal" font-style="normal" fill="#111" stroke="#111" stroke-width="2.0" stroke-linejoin="round" >0.2</text>
<line x1="250.10" y1="253.10" x2="253.70" y2="253.10" stroke="#000" stroke-width="1.2" />
<text transform="translate(248.40 256.12) scale(0.1)" font-size="84.0" text-anchor="end" font-weight="normal" font-style="normal" fill="#111" stroke="#111" stroke-width="2.0" stroke-linejoin="round" >0.0</text>
<text transform="translate(269.50 173.40) scale(0.1)" font-size="95.0" text-anchor="middle" font-weight="normal" font-style="italic" fill="#111" stroke="#111" stroke-width="2.0" stroke-linejoin="round" >Cd3e</text>
<text transform="translate(259.50 251.50) scale(0.1)" font-size="57.0" text-anchor="middle" font-weight="normal" font-style="normal" fill="#2a2a2a" stroke="#2a2a2a" stroke-width="0.2" stroke-linejoin="round" >n.d</text>
<text transform="translate(269.60 251.50) scale(0.1)" font-size="57.0" text-anchor="middle" font-weight="normal" font-style="normal" fill="#2a2a2a" stroke="#2a2a2a" stroke-width="0.2" stroke-linejoin="round" >n.d</text>
<text transform="translate(279.70 251.50) scale(0.1)" font-size="57.0" text-anchor="middle" font-weight="normal" font-style="normal" fill="#2a2a2a" stroke="#2a2a2a" stroke-width="0.2" stroke-linejoin="round" >n.d</text>
<line x1="325.10" y1="201.60" x2="325.10" y2="205.40" stroke="#0a0a0a" stroke-width="1.3" />
<line x1="323.23" y1="201.60" x2="326.97" y2="201.60" stroke="#0a0a0a" stroke-width="1.3" />
<rect x="321.50" y="204.90" width="7.20" height="48.20" fill="#000"/>
<line x1="335.05" y1="190.30" x2="335.05" y2="198.80" stroke="#2e2e2e" stroke-width="1.3" />
<line x1="333.20" y1="190.30" x2="336.90" y2="190.30" stroke="#2e2e2e" stroke-width="1.3" />
<rect x="331.50" y="198.30" width="7.10" height="54.80" fill="#444"/>
<line x1="345.35" y1="209.10" x2="345.35" y2="215.40" stroke="#0a0a0a" stroke-width="1.3" />
<line x1="343.40" y1="209.10" x2="347.30" y2="209.10" stroke="#0a0a0a" stroke-width="1.3" />
<rect x="341.60" y="214.90" width="7.50" height="38.20" fill="#bdbdbd"/>
<line x1="319.30" y1="178.40" x2="319.30" y2="253.70" stroke="#000" stroke-width="1.25" />
<line x1="317.30" y1="253.10" x2="350.90" y2="253.10" stroke="#000" stroke-width="1.25" />
<line x1="315.70" y1="181.60" x2="319.30" y2="181.60" stroke="#000" stroke-width="1.2" />
<text transform="translate(312.90 184.62) scale(0.1)" font-size="84.0" text-anchor="end" font-weight="normal" font-style="normal" fill="#111" stroke="#111" stroke-width="2.0" stroke-linejoin="round" >8</text>
<line x1="315.70" y1="199.50" x2="319.30" y2="199.50" stroke="#000" stroke-width="1.2" />
<text transform="translate(312.90 202.52) scale(0.1)" font-size="84.0" text-anchor="end" font-weight="normal" font-style="normal" fill="#111" stroke="#111" stroke-width="2.0" stroke-linejoin="round" >6</text>
<line x1="315.70" y1="217.40" x2="319.30" y2="217.40" stroke="#000" stroke-width="1.2" />
<text transform="translate(312.90 220.42) scale(0.1)" font-size="84.0" text-anchor="end" font-weight="normal" font-style="normal" fill="#111" stroke="#111" stroke-width="2.0" stroke-linejoin="round" >4</text>
<line x1="315.70" y1="235.20" x2="319.30" y2="235.20" stroke="#000" stroke-width="1.2" />
<text transform="translate(312.90 238.22) scale(0.1)" font-size="84.0" text-anchor="end" font-weight="normal" font-style="normal" fill="#111" stroke="#111" stroke-width="2.0" stroke-linejoin="round" >2</text>
<line x1="315.70" y1="253.10" x2="319.30" y2="253.10" stroke="#000" stroke-width="1.2" />
<text transform="translate(312.90 256.12) scale(0.1)" font-size="84.0" text-anchor="end" font-weight="normal" font-style="normal" fill="#111" stroke="#111" stroke-width="2.0" stroke-linejoin="round" >0</text>
<text transform="translate(335.90 173.40) scale(0.1)" font-size="95.0" text-anchor="middle" font-weight="normal" font-style="italic" fill="#111" stroke="#111" stroke-width="2.0" stroke-linejoin="round" >Rag1</text>
<line x1="323.20" y1="184.80" x2="333.30" y2="184.80" stroke="#000" stroke-width="1.1" />
<text transform="translate(328.25 184.90) scale(0.1)" font-size="66.0" text-anchor="middle" font-weight="normal" font-style="normal" fill="#000" stroke="#000" stroke-width="3.0" stroke-linejoin="round" >ns</text>
<line x1="377.80" y1="225.50" x2="377.80" y2="228.00" stroke="#0a0a0a" stroke-width="1.3" />
<line x1="375.98" y1="225.50" x2="379.62" y2="225.50" stroke="#0a0a0a" stroke-width="1.3" />
<rect x="374.30" y="227.50" width="7.00" height="25.60" fill="#000"/>
<line x1="388.35" y1="218.70" x2="388.35" y2="225.50" stroke="#2e2e2e" stroke-width="1.3" />
<line x1="386.50" y1="218.70" x2="390.20" y2="218.70" stroke="#2e2e2e" stroke-width="1.3" />
<rect x="384.80" y="225.00" width="7.10" height="28.10" fill="#444"/>
<line x1="398.75" y1="199.60" x2="398.75" y2="208.40" stroke="#0a0a0a" stroke-width="1.3" />
<line x1="396.85" y1="199.60" x2="400.65" y2="199.60" stroke="#0a0a0a" stroke-width="1.3" />
<rect x="395.10" y="207.90" width="7.30" height="45.20" fill="#bdbdbd"/>
<line x1="372.70" y1="178.40" x2="372.70" y2="253.70" stroke="#000" stroke-width="1.25" />
<line x1="370.70" y1="253.10" x2="404.40" y2="253.10" stroke="#000" stroke-width="1.25" />
<line x1="369.10" y1="181.60" x2="372.70" y2="181.60" stroke="#000" stroke-width="1.2" />
<text transform="translate(366.30 184.62) scale(0.1)" font-size="84.0" text-anchor="end" font-weight="normal" font-style="normal" fill="#111" stroke="#111" stroke-width="2.0" stroke-linejoin="round" >1.5</text>
<line x1="369.10" y1="205.40" x2="372.70" y2="205.40" stroke="#000" stroke-width="1.2" />
<text transform="translate(366.30 208.42) scale(0.1)" font-size="84.0" text-anchor="end" font-weight="normal" font-style="normal" fill="#111" stroke="#111" stroke-width="2.0" stroke-linejoin="round" >1.0</text>
<line x1="369.10" y1="229.30" x2="372.70" y2="229.30" stroke="#000" stroke-width="1.2" />
<text transform="translate(366.30 232.32) scale(0.1)" font-size="84.0" text-anchor="end" font-weight="normal" font-style="normal" fill="#111" stroke="#111" stroke-width="2.0" stroke-linejoin="round" >0.5</text>
<line x1="369.10" y1="253.10" x2="372.70" y2="253.10" stroke="#000" stroke-width="1.2" />
<text transform="translate(366.30 256.12) scale(0.1)" font-size="84.0" text-anchor="end" font-weight="normal" font-style="normal" fill="#111" stroke="#111" stroke-width="2.0" stroke-linejoin="round" >0.0</text>
<text transform="translate(388.40 173.40) scale(0.1)" font-size="95.0" text-anchor="middle" font-weight="normal" font-style="italic" fill="#111" stroke="#111" stroke-width="2.0" stroke-linejoin="round" >Rag2</text>
<line x1="376.00" y1="184.80" x2="386.10" y2="184.80" stroke="#000" stroke-width="1.1" />
<text transform="translate(381.05 184.90) scale(0.1)" font-size="66.0" text-anchor="middle" font-weight="normal" font-style="normal" fill="#000" stroke="#000" stroke-width="3.0" stroke-linejoin="round" >ns</text>
<line x1="434.75" y1="187.00" x2="434.75" y2="193.30" stroke="#0a0a0a" stroke-width="1.3" />
<line x1="432.80" y1="187.00" x2="436.70" y2="187.00" stroke="#0a0a0a" stroke-width="1.3" />
<rect x="431.00" y="192.80" width="7.50" height="60.30" fill="#000"/>
<line x1="445.30" y1="226.70" x2="445.30" y2="231.00" stroke="#2e2e2e" stroke-width="1.3" />
<line x1="443.32" y1="226.70" x2="447.28" y2="226.70" stroke="#2e2e2e" stroke-width="1.3" />
<rect x="441.50" y="230.50" width="7.60" height="22.60" fill="#444"/>
<rect x="452.40" y="252.40" width="6.00" height="0.70" fill="#bdbdbd"/>
<line x1="429.50" y1="178.40" x2="429.50" y2="253.70" stroke="#000" stroke-width="1.25" />
<line x1="427.50" y1="253.10" x2="461.20" y2="253.10" stroke="#000" stroke-width="1.25" />
<line x1="425.90" y1="181.60" x2="429.50" y2="181.60" stroke="#000" stroke-width="1.2" />
<text transform="translate(423.10 184.62) scale(0.1)" font-size="84.0" text-anchor="end" font-weight="normal" font-style="normal" fill="#111" stroke="#111" stroke-width="2.0" stroke-linejoin="round" >0.20</text>
<line x1="425.90" y1="199.50" x2="429.50" y2="199.50" stroke="#000" stroke-width="1.2" />
<text transform="translate(423.10 202.52) scale(0.1)" font-size="84.0" text-anchor="end" font-weight="normal" font-style="normal" fill="#111" stroke="#111" stroke-width="2.0" stroke-linejoin="round" >0.15</text>
<line x1="425.90" y1="217.40" x2="429.50" y2="217.40" stroke="#000" stroke-width="1.2" />
<text transform="translate(423.10 220.42) scale(0.1)" font-size="84.0" text-anchor="end" font-weight="normal" font-style="normal" fill="#111" stroke="#111" stroke-width="2.0" stroke-linejoin="round" >0.10</text>
<line x1="425.90" y1="235.20" x2="429.50" y2="235.20" stroke="#000" stroke-width="1.2" />
<text transform="translate(423.10 238.22) scale(0.1)" font-size="84.0" text-anchor="end" font-weight="normal" font-style="normal" fill="#111" stroke="#111" stroke-width="2.0" stroke-linejoin="round" >0.05</text>
<line x1="425.90" y1="253.10" x2="429.50" y2="253.10" stroke="#000" stroke-width="1.2" />
<text transform="translate(423.10 256.12) scale(0.1)" font-size="84.0" text-anchor="end" font-weight="normal" font-style="normal" fill="#111" stroke="#111" stroke-width="2.0" stroke-linejoin="round" >0.00</text>
<text transform="translate(445.70 173.40) scale(0.1)" font-size="95.0" text-anchor="middle" font-weight="normal" font-style="italic" fill="#111" stroke="#111" stroke-width="2.0" stroke-linejoin="round" >Flt3</text>
<line x1="433.70" y1="184.90" x2="444.80" y2="184.90" stroke="#000" stroke-width="1.1" />
<text transform="translate(439.25 184.50) scale(0.1)" font-size="80.0" text-anchor="middle" font-weight="normal" font-style="normal" fill="#000" stroke="#000" stroke-width="3.2" stroke-linejoin="round" >**</text>
<text transform="translate(455.20 248.60) scale(0.1)" font-size="66.0" text-anchor="middle" font-weight="normal" font-style="italic" fill="#333" stroke="#333" stroke-width="0.4" stroke-linejoin="round" >#</text>
<line x1="487.55" y1="197.80" x2="487.55" y2="203.40" stroke="#0a0a0a" stroke-width="1.3" />
<line x1="485.60" y1="197.80" x2="489.50" y2="197.80" stroke="#0a0a0a" stroke-width="1.3" />
<rect x="483.80" y="202.90" width="7.50" height="50.20" fill="#000"/>
<line x1="498.10" y1="200.30" x2="498.10" y2="206.60" stroke="#2e2e2e" stroke-width="1.3" />
<line x1="496.12" y1="200.30" x2="500.08" y2="200.30" stroke="#2e2e2e" stroke-width="1.3" />
<rect x="494.30" y="206.10" width="7.60" height="47.00" fill="#444"/>
<line x1="508.20" y1="236.80" x2="508.20" y2="239.80" stroke="#0a0a0a" stroke-width="1.3" />
<line x1="506.22" y1="236.80" x2="510.18" y2="236.80" stroke="#0a0a0a" stroke-width="1.3" />
<rect x="504.40" y="239.30" width="7.60" height="13.80" fill="#bdbdbd"/>
<line x1="481.90" y1="178.40" x2="481.90" y2="253.70" stroke="#000" stroke-width="1.25" />
<line x1="479.90" y1="253.10" x2="513.20" y2="253.10" stroke="#000" stroke-width="1.25" />
<line x1="478.30" y1="181.60" x2="481.90" y2="181.60" stroke="#000" stroke-width="1.2" />
<text transform="translate(475.50 184.62) scale(0.1)" font-size="84.0" text-anchor="end" font-weight="normal" font-style="normal" fill="#111" stroke="#111" stroke-width="2.0" stroke-linejoin="round" >1.5</text>
<line x1="478.30" y1="205.40" x2="481.90" y2="205.40" stroke="#000" stroke-width="1.2" />
<text transform="translate(475.50 208.42) scale(0.1)" font-size="84.0" text-anchor="end" font-weight="normal" font-style="normal" fill="#111" stroke="#111" stroke-width="2.0" stroke-linejoin="round" >1.0</text>
<line x1="478.30" y1="229.30" x2="481.90" y2="229.30" stroke="#000" stroke-width="1.2" />
<text transform="translate(475.50 232.32) scale(0.1)" font-size="84.0" text-anchor="end" font-weight="normal" font-style="normal" fill="#111" stroke="#111" stroke-width="2.0" stroke-linejoin="round" >0.5</text>
<line x1="478.30" y1="253.10" x2="481.90" y2="253.10" stroke="#000" stroke-width="1.2" />
<text transform="translate(475.50 256.12) scale(0.1)" font-size="84.0" text-anchor="end" font-weight="normal" font-style="normal" fill="#111" stroke="#111" stroke-width="2.0" stroke-linejoin="round" >0.0</text>
<text transform="translate(498.70 173.40) scale(0.1)" font-size="95.0" text-anchor="middle" font-weight="normal" font-style="italic" fill="#111" stroke="#111" stroke-width="2.0" stroke-linejoin="round" >Kit</text>
<line x1="486.30" y1="184.80" x2="496.90" y2="184.80" stroke="#000" stroke-width="1.1" />
<text transform="translate(491.60 184.90) scale(0.1)" font-size="66.0" text-anchor="middle" font-weight="normal" font-style="normal" fill="#000" stroke="#000" stroke-width="3.0" stroke-linejoin="round" >ns</text>
<line x1="46.50" y1="347.20" x2="46.50" y2="351.70" stroke="#0a0a0a" stroke-width="1.3" />
<line x1="44.37" y1="347.20" x2="48.63" y2="347.20" stroke="#0a0a0a" stroke-width="1.3" />
<rect x="42.40" y="351.20" width="8.20" height="38.70" fill="#000"/>
<line x1="58.35" y1="333.40" x2="58.35" y2="342.90" stroke="#2e2e2e" stroke-width="1.3" />
<line x1="56.19" y1="333.40" x2="60.51" y2="333.40" stroke="#2e2e2e" stroke-width="1.3" />
<rect x="54.20" y="342.40" width="8.30" height="47.50" fill="#444"/>
<rect x="65.30" y="321.60" width="8.50" height="68.30" fill="#bdbdbd"/>
<line x1="40.50" y1="318.50" x2="40.50" y2="390.50" stroke="#000" stroke-width="1.25" />
<line x1="38.50" y1="389.90" x2="75.40" y2="389.90" stroke="#000" stroke-width="1.25" />
<line x1="36.90" y1="321.60" x2="40.50" y2="321.60" stroke="#000" stroke-width="1.2" />
<text transform="translate(34.10 324.62) scale(0.1)" font-size="84.0" text-anchor="end" font-weight="normal" font-style="normal" fill="#111" stroke="#111" stroke-width="2.0" stroke-linejoin="round" >100</text>
<line x1="36.90" y1="335.30" x2="40.50" y2="335.30" stroke="#000" stroke-width="1.2" />
<text transform="translate(34.10 338.32) scale(0.1)" font-size="84.0" text-anchor="end" font-weight="normal" font-style="normal" fill="#111" stroke="#111" stroke-width="2.0" stroke-linejoin="round" >80</text>
<line x1="36.90" y1="348.90" x2="40.50" y2="348.90" stroke="#000" stroke-width="1.2" />
<text transform="translate(34.10 351.92) scale(0.1)" font-size="84.0" text-anchor="end" font-weight="normal" font-style="normal" fill="#111" stroke="#111" stroke-width="2.0" stroke-linejoin="round" >60</text>
<line x1="36.90" y1="362.60" x2="40.50" y2="362.60" stroke="#000" stroke-width="1.2" />
<text transform="translate(34.10 365.62) scale(0.1)" font-size="84.0" text-anchor="end" font-weight="normal" font-style="normal" fill="#111" stroke="#111" stroke-width="2.0" stroke-linejoin="round" >40</text>
<line x1="36.90" y1="376.20" x2="40.50" y2="376.20" stroke="#000" stroke-width="1.2" />
<text transform="translate(34.10 379.22) scale(0.1)" font-size="84.0" text-anchor="end" font-weight="normal" font-style="normal" fill="#111" stroke="#111" stroke-width="2.0" stroke-linejoin="round" >20</text>
<line x1="36.90" y1="389.90" x2="40.50" y2="389.90" stroke="#000" stroke-width="1.2" />
<text transform="translate(34.10 392.92) scale(0.1)" font-size="84.0" text-anchor="end" font-weight="normal" font-style="normal" fill="#111" stroke="#111" stroke-width="2.0" stroke-linejoin="round" >0</text>
<text transform="translate(14.80 354.00) rotate(-90) scale(0.1)" font-size="88.0" text-anchor="middle" font-weight="normal" font-style="normal" fill="#111" stroke="#111" stroke-width="2.0" stroke-linejoin="round" >% positive wells</text>
<text transform="translate(85.10 311.60) scale(0.1)" font-size="99.0" text-anchor="middle" font-weight="bold" font-style="normal" fill="#000" stroke="#000" stroke-width="2.0" stroke-linejoin="round" >B cells/OP9</text>
<text transform="translate(50.00 396.50) rotate(-45) scale(0.1)" font-size="80.0" text-anchor="end" font-weight="normal" font-style="normal" fill="#111" stroke="#111" stroke-width="2.0" stroke-linejoin="round" >CSF1R<tspan dy="-30.4" font-size="49.6">+</tspan></text>
<text transform="translate(62.00 396.50) rotate(-45) scale(0.1)" font-size="80.0" text-anchor="end" font-weight="normal" font-style="normal" fill="#111" stroke="#111" stroke-width="2.0" stroke-linejoin="round" >CSF1R<tspan dy="-30.4" font-size="49.6">-</tspan></text>
<text transform="translate(74.60 395.60) rotate(-45) scale(0.1)" font-size="80.0" text-anchor="end" font-weight="normal" font-style="normal" fill="#111" stroke="#111" stroke-width="2.0" stroke-linejoin="round" >Adult</text>
<line x1="264.75" y1="362.50" x2="264.75" y2="371.50" stroke="#0a0a0a" stroke-width="1.3" />
<line x1="262.59" y1="362.50" x2="266.91" y2="362.50" stroke="#0a0a0a" stroke-width="1.3" />
<rect x="260.60" y="371.00" width="8.30" height="18.90" fill="#000"/>
<line x1="259.00" y1="318.50" x2="259.00" y2="390.50" stroke="#000" stroke-width="1.25" />
<line x1="257.00" y1="389.90" x2="291.70" y2="389.90" stroke="#000" stroke-width="1.25" />
<line x1="255.40" y1="321.60" x2="259.00" y2="321.60" stroke="#000" stroke-width="1.2" />
<text transform="translate(252.60 324.62) scale(0.1)" font-size="84.0" text-anchor="end" font-weight="normal" font-style="normal" fill="#111" stroke="#111" stroke-width="2.0" stroke-linejoin="round" >100</text>
<line x1="255.40" y1="335.30" x2="259.00" y2="335.30" stroke="#000" stroke-width="1.2" />
<text transform="translate(252.60 338.32) scale(0.1)" font-size="84.0" text-anchor="end" font-weight="normal" font-style="normal" fill="#111" stroke="#111" stroke-width="2.0" stroke-linejoin="round" >80</text>
<line x1="255.40" y1="348.90" x2="259.00" y2="348.90" stroke="#000" stroke-width="1.2" />
<text transform="translate(252.60 351.92) scale(0.1)" font-size="84.0" text-anchor="end" font-weight="normal" font-style="normal" fill="#111" stroke="#111" stroke-width="2.0" stroke-linejoin="round" >60</text>
<line x1="255.40" y1="362.60" x2="259.00" y2="362.60" stroke="#000" stroke-width="1.2" />
<text transform="translate(252.60 365.62) scale(0.1)" font-size="84.0" text-anchor="end" font-weight="normal" font-style="normal" fill="#111" stroke="#111" stroke-width="2.0" stroke-linejoin="round" >40</text>
<line x1="255.40" y1="376.20" x2="259.00" y2="376.20" stroke="#000" stroke-width="1.2" />
<text transform="translate(252.60 379.22) scale(0.1)" font-size="84.0" text-anchor="end" font-weight="normal" font-style="normal" fill="#111" stroke="#111" stroke-width="2.0" stroke-linejoin="round" >20</text>
<line x1="255.40" y1="389.90" x2="259.00" y2="389.90" stroke="#000" stroke-width="1.2" />
<text transform="translate(252.60 392.92) scale(0.1)" font-size="84.0" text-anchor="end" font-weight="normal" font-style="normal" fill="#111" stroke="#111" stroke-width="2.0" stroke-linejoin="round" >0</text>
<text transform="translate(233.00 354.00) rotate(-90) scale(0.1)" font-size="88.0" text-anchor="middle" font-weight="normal" font-style="normal" fill="#111" stroke="#111" stroke-width="2.0" stroke-linejoin="round" >% positive wells</text>
<text transform="translate(262.60 311.90) scale(0.1)" font-size="99.0" text-anchor="start" font-weight="bold" font-style="normal" fill="#000" stroke="#000" stroke-width="2.0" stroke-linejoin="round" >Myeloid cells/OP9</text>
<text transform="translate(276.60 386.20) scale(0.1)" font-size="84.0" text-anchor="middle" font-weight="normal" font-style="normal" fill="#666" stroke="#666" stroke-width="0.5" stroke-linejoin="round" >0</text>
<text transform="translate(287.90 386.20) scale(0.1)" font-size="84.0" text-anchor="middle" font-weight="normal" font-style="normal" fill="#666" stroke="#666" stroke-width="0.5" stroke-linejoin="round" >0</text>
<text transform="translate(268.30 396.50) rotate(-45) scale(0.1)" font-size="80.0" text-anchor="end" font-weight="normal" font-style="normal" fill="#111" stroke="#111" stroke-width="2.0" stroke-linejoin="round" >CSF1R<tspan dy="-30.4" font-size="49.6">+</tspan></text>
<text transform="translate(280.00 396.50) rotate(-45) scale(0.1)" font-size="80.0" text-anchor="end" font-weight="normal" font-style="normal" fill="#111" stroke="#111" stroke-width="2.0" stroke-linejoin="round" >CSF1R<tspan dy="-30.4" font-size="49.6">-</tspan></text>
<text transform="translate(292.00 395.60) rotate(-45) scale(0.1)" font-size="80.0" text-anchor="end" font-weight="normal" font-style="normal" fill="#111" stroke="#111" stroke-width="2.0" stroke-linejoin="round" >Adult</text>
<line x1="507.15" y1="336.60" x2="507.15" y2="345.20" stroke="#777" stroke-width="1.3" />
<line x1="505.30" y1="336.60" x2="509.00" y2="336.60" stroke="#777" stroke-width="1.3" />
<rect x="503.60" y="344.70" width="7.10" height="45.20" fill="#808080"/>
<line x1="475.40" y1="318.50" x2="475.40" y2="390.50" stroke="#000" stroke-width="1.25" />
<line x1="473.40" y1="389.90" x2="512.70" y2="389.90" stroke="#000" stroke-width="1.25" />
<line x1="471.80" y1="321.60" x2="475.40" y2="321.60" stroke="#000" stroke-width="1.2" />
<text transform="translate(469.00 324.62) scale(0.1)" font-size="84.0" text-anchor="end" font-weight="normal" font-style="normal" fill="#111" stroke="#111" stroke-width="2.0" stroke-linejoin="round" >100</text>
<line x1="471.80" y1="335.30" x2="475.40" y2="335.30" stroke="#000" stroke-width="1.2" />
<text transform="translate(469.00 338.32) scale(0.1)" font-size="84.0" text-anchor="end" font-weight="normal" font-style="normal" fill="#111" stroke="#111" stroke-width="2.0" stroke-linejoin="round" >80</text>
<line x1="471.80" y1="348.90" x2="475.40" y2="348.90" stroke="#000" stroke-width="1.2" />
<text transform="translate(469.00 351.92) scale(0.1)" font-size="84.0" text-anchor="end" font-weight="normal" font-style="normal" fill="#111" stroke="#111" stroke-width="2.0" stroke-linejoin="round" >60</text>
<line x1="471.80" y1="362.60" x2="475.40" y2="362.60" stroke="#000" stroke-width="1.2" />
<text transform="translate(469.00 365.62) scale(0.1)" font-size="84.0" text-anchor="end" font-weight="normal" font-style="normal" fill="#111" stroke="#111" stroke-width="2.0" stroke-linejoin="round" >40</text>
<line x1="471.80" y1="376.20" x2="475.40" y2="376.20" stroke="#000" stroke-width="1.2" />
<text transform="translate(469.00 379.22) scale(0.1)" font-size="84.0" text-anchor="end" font-weight="normal" font-style="normal" fill="#111" stroke="#111" stroke-width="2.0" stroke-linejoin="round" >20</text>
<line x1="471.80" y1="389.90" x2="475.40" y2="389.90" stroke="#000" stroke-width="1.2" />
<text transform="translate(469.00 392.92) scale(0.1)" font-size="84.0" text-anchor="end" font-weight="normal" font-style="normal" fill="#111" stroke="#111" stroke-width="2.0" stroke-linejoin="round" >0</text>
<text transform="translate(449.50 354.00) rotate(-90) scale(0.1)" font-size="88.0" text-anchor="middle" font-weight="normal" font-style="normal" fill="#111" stroke="#111" stroke-width="2.0" stroke-linejoin="round" >% positive wells</text>
<text transform="translate(494.00 299.70) scale(0.1)" font-size="97.0" text-anchor="middle" font-weight="bold" font-style="normal" fill="#000" stroke="#000" stroke-width="2.0" stroke-linejoin="round" >T cells/</text>
<text transform="translate(493.00 311.60) scale(0.1)" font-size="97.0" text-anchor="middle" font-weight="bold" font-style="normal" fill="#000" stroke="#000" stroke-width="2.0" stroke-linejoin="round" >OP9-DL1</text>
<text transform="translate(480.00 387.40) scale(0.1)" font-size="80.0" text-anchor="middle" font-weight="normal" font-style="normal" fill="#444" stroke="#444" stroke-width="1.5" stroke-linejoin="round" >0</text>
<text transform="translate(488.80 387.40) scale(0.1)" font-size="80.0" text-anchor="middle" font-weight="normal" font-style="normal" fill="#444" stroke="#444" stroke-width="1.5" stroke-linejoin="round" >0</text>
<text transform="translate(497.30 387.40) scale(0.1)" font-size="80.0" text-anchor="middle" font-weight="normal" font-style="normal" fill="#444" stroke="#444" stroke-width="1.5" stroke-linejoin="round" >0</text>
<text transform="translate(483.00 396.00) rotate(-45) scale(0.1)" font-size="76.0" text-anchor="end" font-weight="normal" font-style="normal" fill="#111" stroke="#111" stroke-width="2.0" stroke-linejoin="round" >CSF1R<tspan dy="-28.9" font-size="47.1">+</tspan></text>
<text transform="translate(492.50 396.00) rotate(-45) scale(0.1)" font-size="76.0" text-anchor="end" font-weight="normal" font-style="normal" fill="#111" stroke="#111" stroke-width="2.0" stroke-linejoin="round" >CSF1R<tspan dy="-28.9" font-size="47.1">-</tspan></text>
<text transform="translate(502.00 396.00) rotate(-45) scale(0.1)" font-size="76.0" text-anchor="end" font-weight="normal" font-style="normal" fill="#111" stroke="#111" stroke-width="2.0" stroke-linejoin="round" >Adult</text>
<text transform="translate(510.60 395.80) rotate(-45) scale(0.1)" font-size="76.0" text-anchor="end" font-weight="normal" font-style="normal" fill="#111" stroke="#111" stroke-width="2.0" stroke-linejoin="round" >Lin<tspan dy="-28.9" font-size="47.1">-</tspan></text>
<rect x="464.60" y="425.30" width="8.20" height="3.00" fill="#000"/>
<text transform="translate(476.00 429.30) scale(0.1)" font-size="76.0" text-anchor="start" font-weight="normal" font-style="normal" fill="#111" stroke="#111" stroke-width="2.0" stroke-linejoin="round" >CSF1R<tspan dy="-28.9" font-size="47.1">+</tspan></text>
<rect x="464.60" y="435.50" width="8.20" height="3.00" fill="#444"/>
<text transform="translate(476.00 439.50) scale(0.1)" font-size="76.0" text-anchor="start" font-weight="normal" font-style="normal" fill="#111" stroke="#111" stroke-width="2.0" stroke-linejoin="round" >CSF1R<tspan dy="-28.9" font-size="47.1">-</tspan></text>
<rect x="464.60" y="445.70" width="8.20" height="3.00" fill="#bdbdbd"/>
<text transform="translate(476.00 449.70) scale(0.1)" font-size="76.0" text-anchor="start" font-weight="normal" font-style="normal" fill="#111" stroke="#111" stroke-width="2.0" stroke-linejoin="round" >Adult</text>
<rect x="464.60" y="455.90" width="8.20" height="3.00" fill="#808080"/>
<text transform="translate(476.00 459.90) scale(0.1)" font-size="76.0" text-anchor="start" font-weight="normal" font-style="normal" fill="#111" stroke="#111" stroke-width="2.0" stroke-linejoin="round" >Lin<tspan dy="-28.9" font-size="47.1">-</tspan></text>
<rect x="95.40" y="322.90" width="39.40" height="39.50" fill="#fff" stroke="#7c7c7c" stroke-width="0.7"/>
<line x1="117.20" y1="322.90" x2="117.20" y2="362.40" stroke="#8c8c8c" stroke-width="0.5" />
<line x1="95.40" y1="340.10" x2="134.80" y2="340.10" stroke="#8c8c8c" stroke-width="0.5" />
<rect x="92.50" y="324.96" width="1.90" height="1.40" fill="#7a7a7a"/>
<rect x="92.50" y="332.47" width="1.90" height="1.40" fill="#7a7a7a"/>
<rect x="92.50" y="339.97" width="1.90" height="1.40" fill="#7a7a7a"/>
<rect x="92.50" y="347.48" width="1.90" height="1.40" fill="#7a7a7a"/>
<rect x="94.00" y="350.92" width="1.20" height="4.00" fill="#bdbdbd"/>
<rect x="99.12" y="363.90" width="1.50" height="1.50" fill="#7a7a7a"/>
<rect x="101.12" y="363.40" width="1.30" height="1.10" fill="#8c8c8c"/>
<rect x="111.33" y="363.90" width="1.50" height="1.50" fill="#7a7a7a"/>
<rect x="113.33" y="363.40" width="1.30" height="1.10" fill="#8c8c8c"/>
<rect x="120.39" y="363.90" width="1.50" height="1.50" fill="#7a7a7a"/>
<rect x="122.39" y="363.40" width="1.30" height="1.10" fill="#8c8c8c"/>
<rect x="129.45" y="363.90" width="1.50" height="1.50" fill="#7a7a7a"/>
<rect x="131.45" y="363.40" width="1.30" height="1.10" fill="#8c8c8c"/>
<line x1="95.40" y1="346.60" x2="95.40" y2="362.40" stroke="#666" stroke-width="1.0" />
<line x1="95.40" y1="362.40" x2="113.13" y2="362.40" stroke="#666" stroke-width="1.0" />
<rect x="141.20" y="322.90" width="39.80" height="39.50" fill="#fff" stroke="#7c7c7c" stroke-width="0.7"/>
<line x1="159.90" y1="322.90" x2="159.90" y2="362.40" stroke="#8c8c8c" stroke-width="0.5" />
<line x1="141.20" y1="341.00" x2="181.00" y2="341.00" stroke="#8c8c8c" stroke-width="0.5" />
<rect x="138.30" y="324.96" width="1.90" height="1.40" fill="#7a7a7a"/>
<rect x="138.30" y="332.47" width="1.90" height="1.40" fill="#7a7a7a"/>
<rect x="138.30" y="339.97" width="1.90" height="1.40" fill="#7a7a7a"/>
<rect x="138.30" y="347.48" width="1.90" height="1.40" fill="#7a7a7a"/>
<rect x="139.80" y="350.92" width="1.20" height="4.00" fill="#bdbdbd"/>
<rect x="144.97" y="363.90" width="1.50" height="1.50" fill="#7a7a7a"/>
<rect x="146.97" y="363.40" width="1.30" height="1.10" fill="#8c8c8c"/>
<rect x="157.31" y="363.90" width="1.50" height="1.50" fill="#7a7a7a"/>
<rect x="159.31" y="363.40" width="1.30" height="1.10" fill="#8c8c8c"/>
<rect x="166.46" y="363.90" width="1.50" height="1.50" fill="#7a7a7a"/>
<rect x="168.46" y="363.40" width="1.30" height="1.10" fill="#8c8c8c"/>
<rect x="175.62" y="363.90" width="1.50" height="1.50" fill="#7a7a7a"/>
<rect x="177.62" y="363.40" width="1.30" height="1.10" fill="#8c8c8c"/>
<line x1="141.20" y1="346.60" x2="141.20" y2="362.40" stroke="#666" stroke-width="1.0" />
<line x1="141.20" y1="362.40" x2="159.11" y2="362.40" stroke="#666" stroke-width="1.0" />
<rect x="95.40" y="369.20" width="39.40" height="39.20" fill="#fff" stroke="#7c7c7c" stroke-width="0.7"/>
<line x1="117.20" y1="369.20" x2="117.20" y2="408.40" stroke="#8c8c8c" stroke-width="0.5" />
<line x1="95.40" y1="386.90" x2="134.80" y2="386.90" stroke="#8c8c8c" stroke-width="0.5" />
<rect x="92.50" y="371.24" width="1.90" height="1.40" fill="#7a7a7a"/>
<rect x="92.50" y="378.69" width="1.90" height="1.40" fill="#7a7a7a"/>
<rect x="92.50" y="386.14" width="1.90" height="1.40" fill="#7a7a7a"/>
<rect x="92.50" y="393.59" width="1.90" height="1.40" fill="#7a7a7a"/>
<rect x="94.00" y="396.99" width="1.20" height="4.00" fill="#bdbdbd"/>
<rect x="99.12" y="409.90" width="1.50" height="1.50" fill="#7a7a7a"/>
<rect x="101.12" y="409.40" width="1.30" height="1.10" fill="#8c8c8c"/>
<rect x="111.33" y="409.90" width="1.50" height="1.50" fill="#7a7a7a"/>
<rect x="113.33" y="409.40" width="1.30" height="1.10" fill="#8c8c8c"/>
<rect x="120.39" y="409.90" width="1.50" height="1.50" fill="#7a7a7a"/>
<rect x="122.39" y="409.40" width="1.30" height="1.10" fill="#8c8c8c"/>
<rect x="129.45" y="409.90" width="1.50" height="1.50" fill="#7a7a7a"/>
<rect x="131.45" y="409.40" width="1.30" height="1.10" fill="#8c8c8c"/>
<line x1="95.40" y1="392.72" x2="95.40" y2="408.40" stroke="#666" stroke-width="1.0" />
<line x1="95.40" y1="408.40" x2="113.13" y2="408.40" stroke="#666" stroke-width="1.0" />
<rect x="141.20" y="369.20" width="39.80" height="39.20" fill="#fff" stroke="#7c7c7c" stroke-width="0.7"/>
<line x1="159.90" y1="369.20" x2="159.90" y2="408.40" stroke="#8c8c8c" stroke-width="0.5" />
<line x1="141.20" y1="386.90" x2="181.00" y2="386.90" stroke="#8c8c8c" stroke-width="0.5" />
<rect x="138.30" y="371.24" width="1.90" height="1.40" fill="#7a7a7a"/>
<rect x="138.30" y="378.69" width="1.90" height="1.40" fill="#7a7a7a"/>
<rect x="138.30" y="386.14" width="1.90" height="1.40" fill="#7a7a7a"/>
<rect x="138.30" y="393.59" width="1.90" height="1.40" fill="#7a7a7a"/>
<rect x="139.80" y="396.99" width="1.20" height="4.00" fill="#bdbdbd"/>
<rect x="144.97" y="409.90" width="1.50" height="1.50" fill="#7a7a7a"/>
<rect x="146.97" y="409.40" width="1.30" height="1.10" fill="#8c8c8c"/>
<rect x="157.31" y="409.90" width="1.50" height="1.50" fill="#7a7a7a"/>
<rect x="159.31" y="409.40" width="1.30" height="1.10" fill="#8c8c8c"/>
<rect x="166.46" y="409.90" width="1.50" height="1.50" fill="#7a7a7a"/>
<rect x="168.46" y="409.40" width="1.30" height="1.10" fill="#8c8c8c"/>
<rect x="175.62" y="409.90" width="1.50" height="1.50" fill="#7a7a7a"/>
<rect x="177.62" y="409.40" width="1.30" height="1.10" fill="#8c8c8c"/>
<line x1="141.20" y1="392.72" x2="141.20" y2="408.40" stroke="#666" stroke-width="1.0" />
<line x1="141.20" y1="408.40" x2="159.11" y2="408.40" stroke="#666" stroke-width="1.0" />
<rect x="95.40" y="416.40" width="39.40" height="39.00" fill="#fff" stroke="#7c7c7c" stroke-width="0.7"/>
<line x1="117.20" y1="416.40" x2="117.20" y2="455.40" stroke="#b0b0b0" stroke-width="0.5" />
<line x1="95.40" y1="433.60" x2="134.80" y2="433.60" stroke="#b0b0b0" stroke-width="0.5" />
<rect x="92.50" y="418.43" width="1.90" height="1.40" fill="#7a7a7a"/>
<rect x="92.50" y="425.84" width="1.90" height="1.40" fill="#7a7a7a"/>
<rect x="92.50" y="433.25" width="1.90" height="1.40" fill="#7a7a7a"/>
<rect x="92.50" y="440.66" width="1.90" height="1.40" fill="#7a7a7a"/>
<rect x="94.00" y="444.04" width="1.20" height="4.00" fill="#bdbdbd"/>
<rect x="99.12" y="456.90" width="1.50" height="1.50" fill="#7a7a7a"/>
<rect x="101.12" y="456.40" width="1.30" height="1.10" fill="#8c8c8c"/>
<rect x="111.33" y="456.90" width="1.50" height="1.50" fill="#7a7a7a"/>
<rect x="113.33" y="456.40" width="1.30" height="1.10" fill="#8c8c8c"/>
<rect x="120.39" y="456.90" width="1.50" height="1.50" fill="#7a7a7a"/>
<rect x="122.39" y="456.40" width="1.30" height="1.10" fill="#8c8c8c"/>
<rect x="129.45" y="456.90" width="1.50" height="1.50" fill="#7a7a7a"/>
<rect x="131.45" y="456.40" width="1.30" height="1.10" fill="#8c8c8c"/>
<line x1="95.40" y1="439.80" x2="95.40" y2="455.40" stroke="#666" stroke-width="1.0" />
<line x1="95.40" y1="455.40" x2="113.13" y2="455.40" stroke="#666" stroke-width="1.0" />
<rect x="141.20" y="416.40" width="39.80" height="39.00" fill="#fff" stroke="#7c7c7c" stroke-width="0.7"/>
<line x1="159.90" y1="416.40" x2="159.90" y2="455.40" stroke="#b0b0b0" stroke-width="0.5" />
<line x1="141.20" y1="433.60" x2="181.00" y2="433.60" stroke="#b0b0b0" stroke-width="0.5" />
<rect x="138.30" y="418.43" width="1.90" height="1.40" fill="#7a7a7a"/>
<rect x="138.30" y="425.84" width="1.90" height="1.40" fill="#7a7a7a"/>
<rect x="138.30" y="433.25" width="1.90" height="1.40" fill="#7a7a7a"/>
<rect x="138.30" y="440.66" width="1.90" height="1.40" fill="#7a7a7a"/>
<rect x="139.80" y="444.04" width="1.20" height="4.00" fill="#bdbdbd"/>
<rect x="144.97" y="456.90" width="1.50" height="1.50" fill="#7a7a7a"/>
<rect x="146.97" y="456.40" width="1.30" height="1.10" fill="#8c8c8c"/>
<rect x="157.31" y="456.90" width="1.50" height="1.50" fill="#7a7a7a"/>
<rect x="159.31" y="456.40" width="1.30" height="1.10" fill="#8c8c8c"/>
<rect x="166.46" y="456.90" width="1.50" height="1.50" fill="#7a7a7a"/>
<rect x="168.46" y="456.40" width="1.30" height="1.10" fill="#8c8c8c"/>
<rect x="175.62" y="456.90" width="1.50" height="1.50" fill="#7a7a7a"/>
<rect x="177.62" y="456.40" width="1.30" height="1.10" fill="#8c8c8c"/>
<line x1="141.20" y1="439.80" x2="141.20" y2="455.40" stroke="#666" stroke-width="1.0" />
<line x1="141.20" y1="455.40" x2="159.11" y2="455.40" stroke="#666" stroke-width="1.0" />
<ellipse cx="124.20" cy="341.80" rx="2.00" ry="2.40" fill="#f2f2f2" stroke="#9a9a9a" stroke-width="0.45" transform="rotate(10 124.20 341.80)"/>
<ellipse cx="124.20" cy="341.80" rx="1.10" ry="1.32" fill="none" stroke="#aaa" stroke-width="0.4" transform="rotate(10 124.20 341.80)"/>
<ellipse cx="124.70" cy="336.50" rx="4.30" ry="5.20" fill="#e9e9e9" stroke="#a0a0a0" stroke-width="0.45" transform="rotate(22 124.70 336.50)"/>
<ellipse cx="124.70" cy="336.50" rx="3.50" ry="4.40" fill="#9c9c9c" stroke="#6a6a6a" stroke-width="0.45" transform="rotate(22 124.70 336.50)"/>
<ellipse cx="124.70" cy="336.50" rx="2.70" ry="3.60" fill="#3a3a3a" stroke="#222" stroke-width="0.4" transform="rotate(22 124.70 336.50)"/>
<ellipse cx="124.70" cy="336.50" rx="1.90" ry="2.70" fill="#0c0c0c" stroke="none" stroke-width="0.5" transform="rotate(22 124.70 336.50)"/>
<ellipse cx="124.70" cy="336.50" rx="0.38" ry="0.83" fill="#8a8a8a" stroke="none" stroke-width="0.5" transform="rotate(22 124.70 336.50)"/>
<ellipse cx="169.60" cy="342.50" rx="2.50" ry="3.00" fill="#f2f2f2" stroke="#9a9a9a" stroke-width="0.45" transform="rotate(20 169.60 342.50)"/>
<ellipse cx="169.60" cy="342.50" rx="1.38" ry="1.65" fill="none" stroke="#aaa" stroke-width="0.4" transform="rotate(20 169.60 342.50)"/>
<ellipse cx="171.70" cy="335.10" rx="4.70" ry="6.60" fill="#e9e9e9" stroke="#a0a0a0" stroke-width="0.45" transform="rotate(30 171.70 335.10)"/>
<ellipse cx="171.70" cy="335.10" rx="3.90" ry="5.80" fill="#9c9c9c" stroke="#6a6a6a" stroke-width="0.45" transform="rotate(30 171.70 335.10)"/>
<ellipse cx="171.70" cy="335.10" rx="3.10" ry="5.00" fill="#3a3a3a" stroke="#222" stroke-width="0.4" transform="rotate(30 171.70 335.10)"/>
<ellipse cx="171.70" cy="335.10" rx="2.30" ry="4.10" fill="#0c0c0c" stroke="none" stroke-width="0.5" transform="rotate(30 171.70 335.10)"/>
<ellipse cx="171.70" cy="335.10" rx="0.45" ry="1.20" fill="#8a8a8a" stroke="none" stroke-width="0.5" transform="rotate(30 171.70 335.10)"/>
<ellipse cx="125.80" cy="380.70" rx="5.10" ry="5.20" fill="#e9e9e9" stroke="#a0a0a0" stroke-width="0.45" transform="rotate(0 125.80 380.70)"/>
<ellipse cx="125.80" cy="380.70" rx="4.30" ry="4.40" fill="#9c9c9c" stroke="#6a6a6a" stroke-width="0.45" transform="rotate(0 125.80 380.70)"/>
<ellipse cx="125.80" cy="380.70" rx="3.50" ry="3.60" fill="#3a3a3a" stroke="#222" stroke-width="0.4" transform="rotate(0 125.80 380.70)"/>
<ellipse cx="125.80" cy="380.70" rx="2.70" ry="2.70" fill="#0c0c0c" stroke="none" stroke-width="0.5" transform="rotate(0 125.80 380.70)"/>
<ellipse cx="125.80" cy="380.70" rx="0.51" ry="0.83" fill="#8a8a8a" stroke="none" stroke-width="0.5" transform="rotate(0 125.80 380.70)"/>
<ellipse cx="167.80" cy="387.20" rx="2.90" ry="3.50" fill="#f2f2f2" stroke="#9a9a9a" stroke-width="0.45" transform="rotate(30 167.80 387.20)"/>
<ellipse cx="167.80" cy="387.20" rx="1.59" ry="1.93" fill="none" stroke="#aaa" stroke-width="0.4" transform="rotate(30 167.80 387.20)"/>
<ellipse cx="171.60" cy="380.60" rx="4.70" ry="6.30" fill="#e9e9e9" stroke="#a0a0a0" stroke-width="0.45" transform="rotate(28 171.60 380.60)"/>
<ellipse cx="171.60" cy="380.60" rx="3.90" ry="5.50" fill="#9c9c9c" stroke="#6a6a6a" stroke-width="0.45" transform="rotate(28 171.60 380.60)"/>
<ellipse cx="171.60" cy="380.60" rx="3.10" ry="4.70" fill="#3a3a3a" stroke="#222" stroke-width="0.4" transform="rotate(28 171.60 380.60)"/>
<ellipse cx="171.60" cy="380.60" rx="2.30" ry="3.80" fill="#0c0c0c" stroke="none" stroke-width="0.5" transform="rotate(28 171.60 380.60)"/>
<ellipse cx="171.60" cy="380.60" rx="0.45" ry="1.12" fill="#8a8a8a" stroke="none" stroke-width="0.5" transform="rotate(28 171.60 380.60)"/>
<ellipse cx="123.30" cy="429.90" rx="1.90" ry="1.60" fill="#f4f4f4" stroke="#a8a8a8" stroke-width="0.45" transform="rotate(-20 123.30 429.90)"/>
<ellipse cx="124.10" cy="427.40" rx="2.60" ry="2.20" fill="#c8c8c8" stroke="#8a8a8a" stroke-width="0.4" transform="rotate(-30 124.10 427.40)"/>
<ellipse cx="124.70" cy="425.90" rx="3.10" ry="2.20" fill="#3a3a3a" stroke="#555" stroke-width="0.4" transform="rotate(-35 124.70 425.90)"/>
<ellipse cx="124.80" cy="425.80" rx="2.40" ry="1.60" fill="#0a0a0a" stroke="none" stroke-width="0.5" transform="rotate(-35 124.80 425.80)"/>
<ellipse cx="168.80" cy="429.90" rx="1.90" ry="1.60" fill="#f4f4f4" stroke="#a8a8a8" stroke-width="0.45" transform="rotate(-20 168.80 429.90)"/>
<ellipse cx="169.60" cy="427.40" rx="2.60" ry="2.20" fill="#c8c8c8" stroke="#8a8a8a" stroke-width="0.4" transform="rotate(-30 169.60 427.40)"/>
<ellipse cx="170.20" cy="425.90" rx="3.10" ry="2.20" fill="#3a3a3a" stroke="#555" stroke-width="0.4" transform="rotate(-35 170.20 425.90)"/>
<ellipse cx="170.30" cy="425.80" rx="2.40" ry="1.60" fill="#0a0a0a" stroke="none" stroke-width="0.5" transform="rotate(-35 170.30 425.80)"/>
<ellipse cx="116.90" cy="378.10" rx="0.90" ry="0.90" fill="#b5b5b5" stroke="#8a8a8a" stroke-width="0.7" transform="rotate(0 116.90 378.10)"/>
<ellipse cx="114.60" cy="385.30" rx="0.90" ry="0.90" fill="#b5b5b5" stroke="#8a8a8a" stroke-width="0.7" transform="rotate(0 114.60 385.30)"/>
<ellipse cx="119.20" cy="385.60" rx="0.90" ry="0.90" fill="#b5b5b5" stroke="#8a8a8a" stroke-width="0.7" transform="rotate(0 119.20 385.60)"/>
<ellipse cx="111.10" cy="388.90" rx="0.90" ry="0.90" fill="#b5b5b5" stroke="#8a8a8a" stroke-width="0.7" transform="rotate(0 111.10 388.90)"/>
<ellipse cx="108.30" cy="393.00" rx="0.90" ry="0.90" fill="#b5b5b5" stroke="#8a8a8a" stroke-width="0.7" transform="rotate(0 108.30 393.00)"/>
<ellipse cx="113.60" cy="402.20" rx="0.90" ry="0.90" fill="#b5b5b5" stroke="#8a8a8a" stroke-width="0.7" transform="rotate(0 113.60 402.20)"/>
<ellipse cx="114.60" cy="391.70" rx="1.00" ry="1.90" fill="none" stroke="#8f8f8f" stroke-width="0.55" transform="rotate(0 114.60 391.70)"/>
<ellipse cx="159.70" cy="341.20" rx="0.50" ry="1.40" fill="none" stroke="#aaa" stroke-width="0.45" transform="rotate(0 159.70 341.20)"/>
<circle cx="163.70" cy="338.60" r="0.5" fill="#aaa"/>
<circle cx="164.20" cy="388.40" r="0.6" fill="#aaa"/>
<text transform="translate(115.80 322.00) scale(0.1)" font-size="63.0" text-anchor="start" font-weight="normal" font-style="normal" fill="#333" stroke="#333" stroke-width="0.5" stroke-linejoin="round" >TOPRO<tspan dy="-23.9" font-size="39.1">-</tspan><tspan dy="23.9" font-size="63">NK1.1</tspan><tspan dy="-23.9" font-size="39.1">-</tspan></text>
<text transform="translate(198.00 342.70) scale(0.1)" font-size="76.0" text-anchor="middle" font-weight="normal" font-style="normal" fill="#111" stroke="#111" stroke-width="2.0" stroke-linejoin="round" >CSF1R<tspan dy="-28.9" font-size="47.1">-</tspan></text>
<text transform="translate(198.00 352.30) scale(0.1)" font-size="76.0" text-anchor="middle" font-weight="normal" font-style="normal" fill="#111" stroke="#111" stroke-width="2.0" stroke-linejoin="round" >ProB</text>
<text transform="translate(198.00 388.70) scale(0.1)" font-size="76.0" text-anchor="middle" font-weight="normal" font-style="normal" fill="#111" stroke="#111" stroke-width="2.0" stroke-linejoin="round" >CSF1R<tspan dy="-28.9" font-size="47.1">+</tspan></text>
<text transform="translate(198.00 398.30) scale(0.1)" font-size="76.0" text-anchor="middle" font-weight="normal" font-style="normal" fill="#111" stroke="#111" stroke-width="2.0" stroke-linejoin="round" >ProB</text>
<text transform="translate(198.70 435.00) scale(0.1)" font-size="76.0" text-anchor="middle" font-weight="normal" font-style="normal" fill="#111" stroke="#111" stroke-width="2.0" stroke-linejoin="round" >Adult</text>
<text transform="translate(198.70 444.60) scale(0.1)" font-size="76.0" text-anchor="middle" font-weight="normal" font-style="normal" fill="#111" stroke="#111" stroke-width="2.0" stroke-linejoin="round" >ProB</text>
<line x1="84.70" y1="322.00" x2="84.70" y2="364.50" stroke="#000" stroke-width="1.1" />
<line x1="84.70" y1="415.00" x2="84.70" y2="456.00" stroke="#000" stroke-width="1.1" />
<polyline points="81.70,325.20 84.70,321.60 87.70,325.20" fill="none" stroke="#000" stroke-width="1.1"/>
<text transform="translate(87.00 390.20) rotate(-90) scale(0.1)" font-size="63.0" text-anchor="middle" font-weight="normal" font-style="normal" fill="#111" stroke="#111" stroke-width="0.8" stroke-linejoin="round" >B220-PE-CF594</text>
<line x1="97.00" y1="466.30" x2="114.20" y2="466.30" stroke="#000" stroke-width="1.1" />
<line x1="158.00" y1="466.30" x2="180.20" y2="466.30" stroke="#000" stroke-width="1.1" />
<polyline points="177.20,463.30 180.80,466.30 177.20,469.30" fill="none" stroke="#000" stroke-width="1.1"/>
<text transform="translate(136.50 468.40) scale(0.1)" font-size="68.0" text-anchor="middle" font-weight="normal" font-style="normal" fill="#111" stroke="#111" stroke-width="0.8" stroke-linejoin="round" >CD19-eF450</text>
<rect x="313.40" y="323.40" width="40.00" height="39.10" fill="#fff" stroke="#8c8c8c" stroke-width="0.7"/>
<line x1="335.50" y1="323.40" x2="335.50" y2="362.50" stroke="#8e8e8e" stroke-width="0.5" />
<line x1="313.40" y1="340.10" x2="353.40" y2="340.10" stroke="#8e8e8e" stroke-width="0.5" />
<rect x="310.50" y="325.44" width="1.90" height="1.40" fill="#7a7a7a"/>
<rect x="310.50" y="332.87" width="1.90" height="1.40" fill="#7a7a7a"/>
<rect x="310.50" y="340.30" width="1.90" height="1.40" fill="#7a7a7a"/>
<rect x="310.50" y="347.72" width="1.90" height="1.40" fill="#7a7a7a"/>
<rect x="312.00" y="351.12" width="1.20" height="4.00" fill="#bdbdbd"/>
<rect x="317.20" y="364.00" width="1.50" height="1.50" fill="#7a7a7a"/>
<rect x="319.20" y="363.50" width="1.30" height="1.10" fill="#8c8c8c"/>
<rect x="329.60" y="364.00" width="1.50" height="1.50" fill="#7a7a7a"/>
<rect x="331.60" y="363.50" width="1.30" height="1.10" fill="#8c8c8c"/>
<rect x="338.80" y="364.00" width="1.50" height="1.50" fill="#7a7a7a"/>
<rect x="340.80" y="363.50" width="1.30" height="1.10" fill="#8c8c8c"/>
<rect x="348.00" y="364.00" width="1.50" height="1.50" fill="#7a7a7a"/>
<rect x="350.00" y="363.50" width="1.30" height="1.10" fill="#8c8c8c"/>
<line x1="313.40" y1="346.86" x2="313.40" y2="362.50" stroke="#666" stroke-width="1.0" />
<line x1="313.40" y1="362.50" x2="331.40" y2="362.50" stroke="#666" stroke-width="1.0" />
<rect x="358.90" y="323.40" width="39.70" height="39.10" fill="#fff" stroke="#8c8c8c" stroke-width="0.7"/>
<line x1="381.10" y1="323.40" x2="381.10" y2="362.50" stroke="#8e8e8e" stroke-width="0.5" />
<line x1="358.90" y1="336.40" x2="398.60" y2="336.40" stroke="#8e8e8e" stroke-width="0.5" />
<rect x="356.00" y="325.44" width="1.90" height="1.40" fill="#7a7a7a"/>
<rect x="356.00" y="332.87" width="1.90" height="1.40" fill="#7a7a7a"/>
<rect x="356.00" y="340.30" width="1.90" height="1.40" fill="#7a7a7a"/>
<rect x="356.00" y="347.72" width="1.90" height="1.40" fill="#7a7a7a"/>
<rect x="357.50" y="351.12" width="1.20" height="4.00" fill="#bdbdbd"/>
<rect x="362.66" y="364.00" width="1.50" height="1.50" fill="#7a7a7a"/>
<rect x="364.66" y="363.50" width="1.30" height="1.10" fill="#8c8c8c"/>
<rect x="374.96" y="364.00" width="1.50" height="1.50" fill="#7a7a7a"/>
<rect x="376.96" y="363.50" width="1.30" height="1.10" fill="#8c8c8c"/>
<rect x="384.10" y="364.00" width="1.50" height="1.50" fill="#7a7a7a"/>
<rect x="386.10" y="363.50" width="1.30" height="1.10" fill="#8c8c8c"/>
<rect x="393.23" y="364.00" width="1.50" height="1.50" fill="#7a7a7a"/>
<rect x="395.23" y="363.50" width="1.30" height="1.10" fill="#8c8c8c"/>
<line x1="358.90" y1="346.86" x2="358.90" y2="362.50" stroke="#666" stroke-width="1.0" />
<line x1="358.90" y1="362.50" x2="376.76" y2="362.50" stroke="#666" stroke-width="1.0" />
<rect x="313.40" y="369.20" width="40.00" height="39.10" fill="#fff" stroke="#8c8c8c" stroke-width="0.7"/>
<line x1="335.50" y1="369.20" x2="335.50" y2="408.30" stroke="#8e8e8e" stroke-width="0.5" />
<line x1="313.40" y1="387.10" x2="353.40" y2="387.10" stroke="#8e8e8e" stroke-width="0.5" />
<rect x="310.50" y="371.24" width="1.90" height="1.40" fill="#7a7a7a"/>
<rect x="310.50" y="378.67" width="1.90" height="1.40" fill="#7a7a7a"/>
<rect x="310.50" y="386.10" width="1.90" height="1.40" fill="#7a7a7a"/>
<rect x="310.50" y="393.52" width="1.90" height="1.40" fill="#7a7a7a"/>
<rect x="312.00" y="396.92" width="1.20" height="4.00" fill="#bdbdbd"/>
<rect x="317.20" y="409.80" width="1.50" height="1.50" fill="#7a7a7a"/>
<rect x="319.20" y="409.30" width="1.30" height="1.10" fill="#8c8c8c"/>
<rect x="329.60" y="409.80" width="1.50" height="1.50" fill="#7a7a7a"/>
<rect x="331.60" y="409.30" width="1.30" height="1.10" fill="#8c8c8c"/>
<rect x="338.80" y="409.80" width="1.50" height="1.50" fill="#7a7a7a"/>
<rect x="340.80" y="409.30" width="1.30" height="1.10" fill="#8c8c8c"/>
<rect x="348.00" y="409.80" width="1.50" height="1.50" fill="#7a7a7a"/>
<rect x="350.00" y="409.30" width="1.30" height="1.10" fill="#8c8c8c"/>
<line x1="313.40" y1="392.66" x2="313.40" y2="408.30" stroke="#666" stroke-width="1.0" />
<line x1="313.40" y1="408.30" x2="331.40" y2="408.30" stroke="#666" stroke-width="1.0" />
<rect x="358.90" y="369.20" width="39.70" height="39.10" fill="#fff" stroke="#8c8c8c" stroke-width="0.7"/>
<line x1="381.10" y1="369.20" x2="381.10" y2="408.30" stroke="#8e8e8e" stroke-width="0.5" />
<line x1="358.90" y1="383.00" x2="398.60" y2="383.00" stroke="#8e8e8e" stroke-width="0.5" />
<rect x="356.00" y="371.24" width="1.90" height="1.40" fill="#7a7a7a"/>
<rect x="356.00" y="378.67" width="1.90" height="1.40" fill="#7a7a7a"/>
<rect x="356.00" y="386.10" width="1.90" height="1.40" fill="#7a7a7a"/>
<rect x="356.00" y="393.52" width="1.90" height="1.40" fill="#7a7a7a"/>
<rect x="357.50" y="396.92" width="1.20" height="4.00" fill="#bdbdbd"/>
<rect x="362.66" y="409.80" width="1.50" height="1.50" fill="#7a7a7a"/>
<rect x="364.66" y="409.30" width="1.30" height="1.10" fill="#8c8c8c"/>
<rect x="374.96" y="409.80" width="1.50" height="1.50" fill="#7a7a7a"/>
<rect x="376.96" y="409.30" width="1.30" height="1.10" fill="#8c8c8c"/>
<rect x="384.10" y="409.80" width="1.50" height="1.50" fill="#7a7a7a"/>
<rect x="386.10" y="409.30" width="1.30" height="1.10" fill="#8c8c8c"/>
<rect x="393.23" y="409.80" width="1.50" height="1.50" fill="#7a7a7a"/>
<rect x="395.23" y="409.30" width="1.30" height="1.10" fill="#8c8c8c"/>
<line x1="358.90" y1="392.66" x2="358.90" y2="408.30" stroke="#666" stroke-width="1.0" />
<line x1="358.90" y1="408.30" x2="376.76" y2="408.30" stroke="#666" stroke-width="1.0" />
<rect x="313.40" y="416.60" width="40.00" height="39.00" fill="#fff" stroke="#8c8c8c" stroke-width="0.7"/>
<line x1="335.50" y1="416.60" x2="335.50" y2="455.60" stroke="#8e8e8e" stroke-width="0.5" />
<line x1="313.40" y1="433.60" x2="353.40" y2="433.60" stroke="#8e8e8e" stroke-width="0.5" />
<rect x="310.50" y="418.63" width="1.90" height="1.40" fill="#7a7a7a"/>
<rect x="310.50" y="426.04" width="1.90" height="1.40" fill="#7a7a7a"/>
<rect x="310.50" y="433.45" width="1.90" height="1.40" fill="#7a7a7a"/>
<rect x="310.50" y="440.86" width="1.90" height="1.40" fill="#7a7a7a"/>
<rect x="312.00" y="444.24" width="1.20" height="4.00" fill="#bdbdbd"/>
<rect x="317.20" y="457.10" width="1.50" height="1.50" fill="#7a7a7a"/>
<rect x="319.20" y="456.60" width="1.30" height="1.10" fill="#8c8c8c"/>
<rect x="329.60" y="457.10" width="1.50" height="1.50" fill="#7a7a7a"/>
<rect x="331.60" y="456.60" width="1.30" height="1.10" fill="#8c8c8c"/>
<rect x="338.80" y="457.10" width="1.50" height="1.50" fill="#7a7a7a"/>
<rect x="340.80" y="456.60" width="1.30" height="1.10" fill="#8c8c8c"/>
<rect x="348.00" y="457.10" width="1.50" height="1.50" fill="#7a7a7a"/>
<rect x="350.00" y="456.60" width="1.30" height="1.10" fill="#8c8c8c"/>
<line x1="313.40" y1="440.00" x2="313.40" y2="455.60" stroke="#666" stroke-width="1.0" />
<line x1="313.40" y1="455.60" x2="331.40" y2="455.60" stroke="#666" stroke-width="1.0" />
<rect x="358.90" y="416.60" width="39.70" height="39.00" fill="#fff" stroke="#8c8c8c" stroke-width="0.7"/>
<line x1="381.10" y1="416.60" x2="381.10" y2="455.60" stroke="#8e8e8e" stroke-width="0.5" />
<line x1="358.90" y1="430.00" x2="398.60" y2="430.00" stroke="#8e8e8e" stroke-width="0.5" />
<rect x="356.00" y="418.63" width="1.90" height="1.40" fill="#7a7a7a"/>
<rect x="356.00" y="426.04" width="1.90" height="1.40" fill="#7a7a7a"/>
<rect x="356.00" y="433.45" width="1.90" height="1.40" fill="#7a7a7a"/>
<rect x="356.00" y="440.86" width="1.90" height="1.40" fill="#7a7a7a"/>
<rect x="357.50" y="444.24" width="1.20" height="4.00" fill="#bdbdbd"/>
<rect x="362.66" y="457.10" width="1.50" height="1.50" fill="#7a7a7a"/>
<rect x="364.66" y="456.60" width="1.30" height="1.10" fill="#8c8c8c"/>
<rect x="374.96" y="457.10" width="1.50" height="1.50" fill="#7a7a7a"/>
<rect x="376.96" y="456.60" width="1.30" height="1.10" fill="#8c8c8c"/>
<rect x="384.10" y="457.10" width="1.50" height="1.50" fill="#7a7a7a"/>
<rect x="386.10" y="456.60" width="1.30" height="1.10" fill="#8c8c8c"/>
<rect x="393.23" y="457.10" width="1.50" height="1.50" fill="#7a7a7a"/>
<rect x="395.23" y="456.60" width="1.30" height="1.10" fill="#8c8c8c"/>
<line x1="358.90" y1="440.00" x2="358.90" y2="455.60" stroke="#666" stroke-width="1.0" />
<line x1="358.90" y1="455.60" x2="376.76" y2="455.60" stroke="#666" stroke-width="1.0" />
<ellipse cx="331.30" cy="345.20" rx="1.70" ry="2.60" fill="#0a0a0a" stroke="none" stroke-width="0.5" transform="rotate(-10 331.30 345.20)"/>
<ellipse cx="331.40" cy="345.40" rx="0.40" ry="1.00" fill="#777" stroke="none" stroke-width="0.5" transform="rotate(-10 331.40 345.40)"/>
<circle cx="335.70" cy="342.30" r="1.5" fill="#0a0a0a"/>
<ellipse cx="332.30" cy="358.70" rx="1.40" ry="1.40" fill="none" stroke="#0a0a0a" stroke-width="1.2" transform="rotate(0 332.30 358.70)"/>
<circle cx="374.70" cy="344.70" r="1.4" fill="#0a0a0a"/>
<ellipse cx="344.90" cy="383.60" rx="4.50" ry="9.60" fill="#f0f0f0" stroke="#a5a5a5" stroke-width="0.45" transform="rotate(0 344.90 383.60)"/>
<ellipse cx="343.60" cy="376.30" rx="1.70" ry="1.70" fill="#e6e6e6" stroke="#8a8a8a" stroke-width="0.5" transform="rotate(0 343.60 376.30)"/>
<ellipse cx="347.20" cy="375.60" rx="1.50" ry="1.50" fill="#e6e6e6" stroke="#8a8a8a" stroke-width="0.5" transform="rotate(0 347.20 375.60)"/>
<ellipse cx="344.90" cy="383.20" rx="3.70" ry="7.20" fill="#adadad" stroke="#707070" stroke-width="0.45" transform="rotate(0 344.90 383.20)"/>
<ellipse cx="345.00" cy="383.00" rx="2.90" ry="5.40" fill="#636363" stroke="#444" stroke-width="0.45" transform="rotate(0 345.00 383.00)"/>
<ellipse cx="345.10" cy="382.80" rx="2.00" ry="3.80" fill="#2e2e2e" stroke="#222" stroke-width="0.4" transform="rotate(0 345.10 382.80)"/>
<ellipse cx="345.20" cy="383.20" rx="0.60" ry="1.30" fill="#b0b0b0" stroke="none" stroke-width="0.5" transform="rotate(0 345.20 383.20)"/>
<ellipse cx="346.00" cy="391.70" rx="1.40" ry="1.40" fill="#fafafa" stroke="#8a8a8a" stroke-width="0.5" transform="rotate(0 346.00 391.70)"/>
<ellipse cx="388.60" cy="379.40" rx="7.00" ry="7.60" fill="#efefef" stroke="#a5a5a5" stroke-width="0.45" transform="rotate(0 388.60 379.40)"/>
<ellipse cx="388.20" cy="378.60" rx="5.90" ry="6.20" fill="#b8b8b8" stroke="#7c7c7c" stroke-width="0.45" transform="rotate(0 388.20 378.60)"/>
<path d="M383.2 374.0 q4.4 -2.6 9.0 -0.2 q1.0 5.0 -3.2 10.2 q-2.4 -0.6 -4.4 -3.2 q-1.8 -3.0 -1.4 -6.8z" fill="#1c1c1c" stroke="#111" stroke-width="0.4"/>
<path d="M386.4 375.4 l1.6 3.6 l1.5 -3.8" fill="none" stroke="#c8c8c8" stroke-width="0.7"/>
<ellipse cx="393.60" cy="376.60" rx="1.30" ry="1.30" fill="none" stroke="#777" stroke-width="0.5" transform="rotate(0 393.60 376.60)"/>
<ellipse cx="364.80" cy="375.40" rx="1.25" ry="1.25" fill="none" stroke="#8c8c8c" stroke-width="0.6" transform="rotate(0 364.80 375.40)"/>
<ellipse cx="375.20" cy="389.30" rx="1.25" ry="1.25" fill="none" stroke="#8c8c8c" stroke-width="0.6" transform="rotate(0 375.20 389.30)"/>
<ellipse cx="365.90" cy="395.00" rx="1.25" ry="1.25" fill="none" stroke="#8c8c8c" stroke-width="0.6" transform="rotate(0 365.90 395.00)"/>
<ellipse cx="359.60" cy="376.40" rx="1.10" ry="1.10" fill="none" stroke="#555" stroke-width="0.8" transform="rotate(0 359.60 376.40)"/>
<circle cx="328.30" cy="439.30" r="1.4" fill="#0a0a0a"/>
<ellipse cx="320.00" cy="447.50" rx="2.30" ry="1.50" fill="#0a0a0a" stroke="none" stroke-width="0.5" transform="rotate(-25 320.00 447.50)"/>
<ellipse cx="320.00" cy="447.50" rx="0.90" ry="0.40" fill="#666" stroke="none" stroke-width="0.5" transform="rotate(-25 320.00 447.50)"/>
<text transform="translate(316.80 322.50) scale(0.1)" font-size="65.5" text-anchor="start" font-weight="normal" font-style="normal" fill="#333" stroke="#333" stroke-width="0.5" stroke-linejoin="round" >TOPRO<tspan dy="-24.9" font-size="40.6">-</tspan><tspan dy="24.9" font-size="65.5">CD19</tspan><tspan dy="-24.9" font-size="40.6">-</tspan><tspan dy="24.9" font-size="65.5">B220</tspan><tspan dy="-24.9" font-size="40.6">-</tspan><tspan dy="24.9" font-size="65.5">NK1.1</tspan><tspan dy="-24.9" font-size="40.6">-</tspan></text>
<text transform="translate(415.20 344.00) scale(0.1)" font-size="76.0" text-anchor="middle" font-weight="normal" font-style="normal" fill="#111" stroke="#111" stroke-width="2.0" stroke-linejoin="round" >CSF1R<tspan dy="-28.9" font-size="47.1">-</tspan></text>
<text transform="translate(414.30 353.30) scale(0.1)" font-size="76.0" text-anchor="middle" font-weight="normal" font-style="normal" fill="#111" stroke="#111" stroke-width="2.0" stroke-linejoin="round" >ProB</text>
<text transform="translate(415.20 388.70) scale(0.1)" font-size="76.0" text-anchor="middle" font-weight="normal" font-style="normal" fill="#111" stroke="#111" stroke-width="2.0" stroke-linejoin="round" >CSF1R<tspan dy="-28.9" font-size="47.1">+</tspan></text>
<text transform="translate(414.30 398.00) scale(0.1)" font-size="76.0" text-anchor="middle" font-weight="normal" font-style="normal" fill="#111" stroke="#111" stroke-width="2.0" stroke-linejoin="round" >ProB</text>
<text transform="translate(415.20 435.80) scale(0.1)" font-size="76.0" text-anchor="middle" font-weight="normal" font-style="normal" fill="#111" stroke="#111" stroke-width="2.0" stroke-linejoin="round" >Adult</text>
<text transform="translate(414.90 445.00) scale(0.1)" font-size="76.0" text-anchor="middle" font-weight="normal" font-style="normal" fill="#111" stroke="#111" stroke-width="2.0" stroke-linejoin="round" >ProB</text>
<line x1="303.80" y1="324.30" x2="303.80" y2="378.00" stroke="#000" stroke-width="1.1" />
<line x1="303.80" y1="413.00" x2="303.80" y2="456.20" stroke="#000" stroke-width="1.1" />
<polyline points="300.80,327.50 303.80,323.90 306.80,327.50" fill="none" stroke="#000" stroke-width="1.1"/>
<text transform="translate(306.10 395.20) rotate(-90) scale(0.1)" font-size="68.0" text-anchor="middle" font-weight="normal" font-style="normal" fill="#111" stroke="#111" stroke-width="0.8" stroke-linejoin="round" >GR1-PC5</text>
<line x1="313.80" y1="465.80" x2="330.00" y2="465.80" stroke="#000" stroke-width="1.1" />
<line x1="382.50" y1="465.80" x2="401.60" y2="465.80" stroke="#000" stroke-width="1.1" />
<polyline points="398.60,462.80 402.20,465.80 398.60,468.80" fill="none" stroke="#000" stroke-width="1.1"/>
<text transform="translate(355.60 468.20) scale(0.1)" font-size="66.0" text-anchor="middle" font-weight="normal" font-style="normal" fill="#111" stroke="#111" stroke-width="0.8" stroke-linejoin="round" >MAC1-APC-Cy7</text>
</svg>
</body></html>
